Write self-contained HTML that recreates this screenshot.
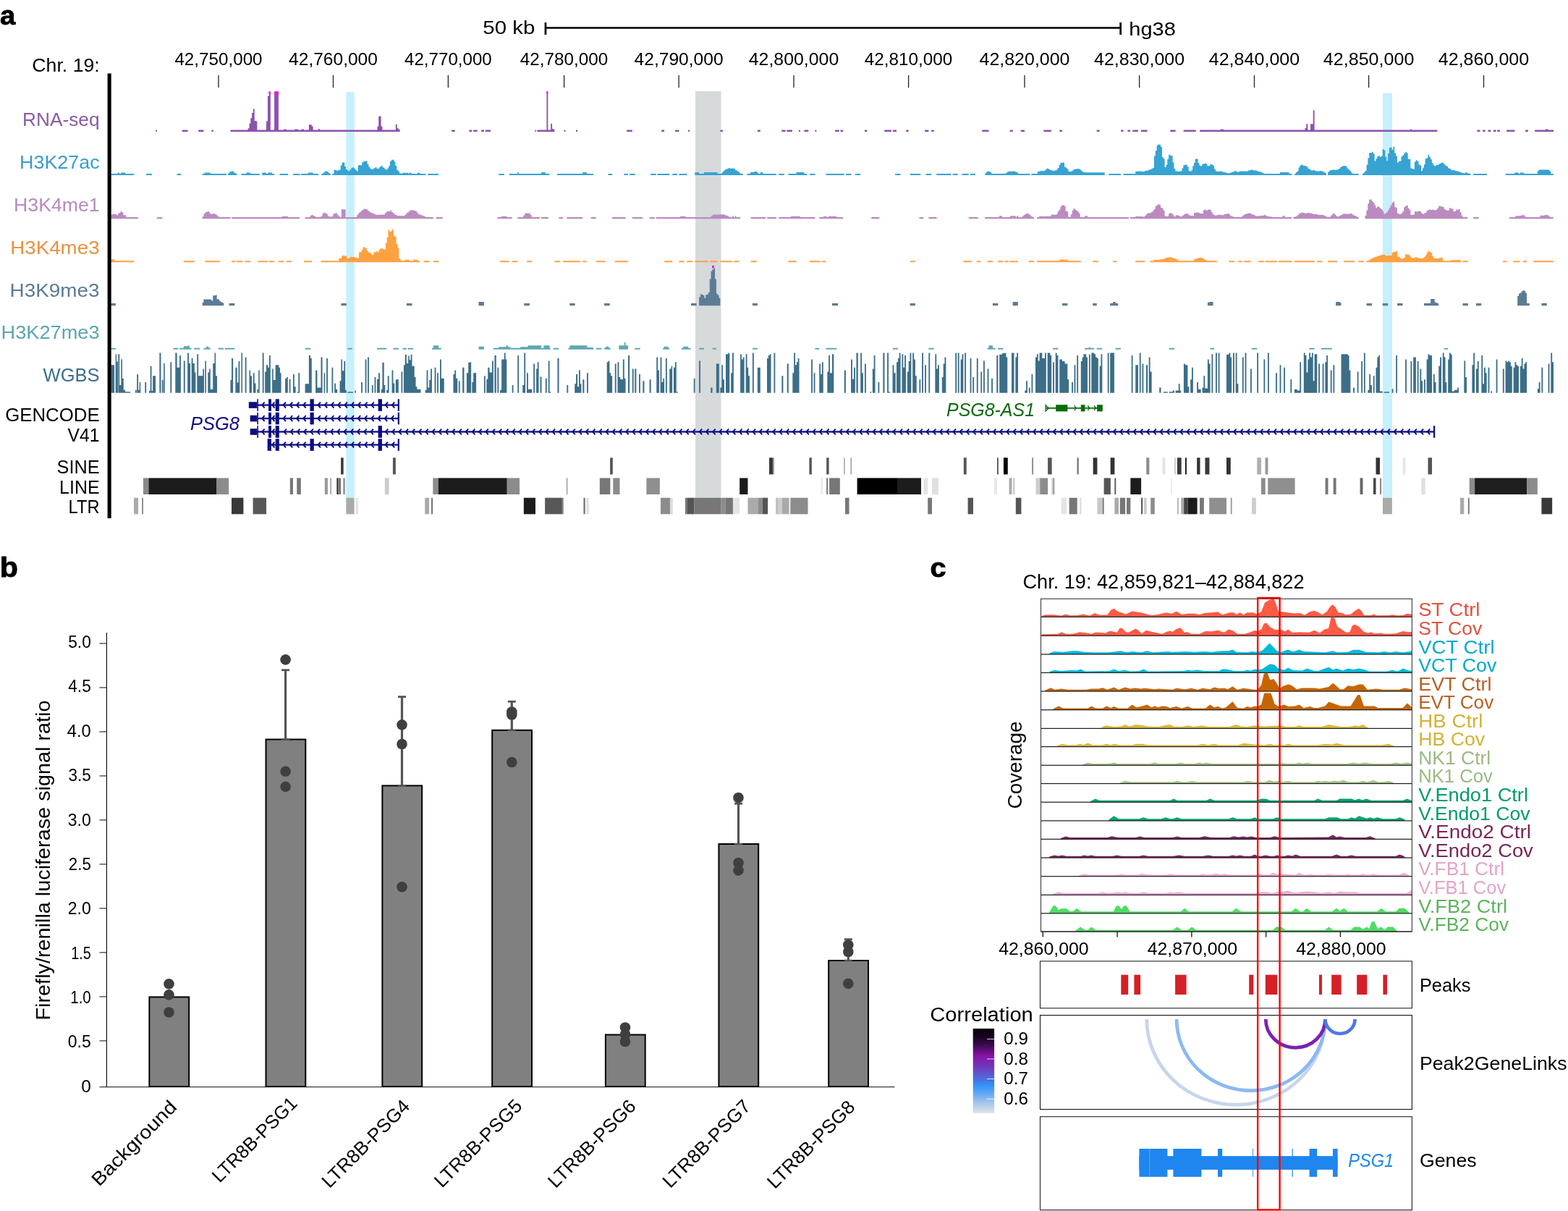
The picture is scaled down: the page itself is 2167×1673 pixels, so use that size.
<!DOCTYPE html>
<html lang="en"><head><meta charset="utf-8"><title>Figure</title>
<style>html,body{margin:0;padding:0;background:#fff}svg{display:block}text{font-family:"Liberation Sans",sans-serif}</style></head><body>
<svg width="2167" height="1673" viewBox="0 0 2167 1673" role="img" aria-label="Figure panels a, b and c">
<defs><linearGradient id="corr" x1="0" y1="0" x2="0" y2="1"><stop offset="0" stop-color="#06000a"/><stop offset="0.1" stop-color="#1a0322"/><stop offset="0.2" stop-color="#3e0a52"/><stop offset="0.32" stop-color="#8612a4"/><stop offset="0.45" stop-color="#7038bc"/><stop offset="0.55" stop-color="#5a5cd0"/><stop offset="0.62" stop-color="#4478e4"/><stop offset="0.68" stop-color="#3394fb"/><stop offset="0.78" stop-color="#6aabf3"/><stop offset="0.88" stop-color="#a5c6ee"/><stop offset="1" stop-color="#dfe3e6"/></linearGradient></defs>
<rect x="0" y="0" width="2167" height="1673" fill="#fff"/>
<g id="panel-a">
<rect x="478.4" y="127" width="11.3" height="560.7" fill="#c6f0fc"/>
<rect x="961" y="126" width="35.5" height="561.7" fill="#d6dadb"/>
<rect x="1911" y="128.5" width="13" height="559.2" fill="#c6f0fc"/>
<rect x="753" y="37.25" width="796" height="2.5" fill="#000"/>
<rect x="752.6" y="31" width="2.7" height="17" fill="#000"/>
<rect x="1547.3" y="31" width="2.7" height="17" fill="#000"/>
<text x="667.3" y="47.3" font-size="26" textLength="72" lengthAdjust="spacingAndGlyphs">50 kb</text>
<text x="1560.3" y="49" font-size="26" textLength="64.5" lengthAdjust="spacingAndGlyphs">hg38</text>
<text x="137.8" y="98.9" font-size="26" text-anchor="end" textLength="93.5" lengthAdjust="spacingAndGlyphs">Chr. 19:</text>
<rect x="301.35" y="104" width="1.3" height="17" fill="#222"/>
<text x="302" y="90.2" font-size="24.2" text-anchor="middle" textLength="121.2" lengthAdjust="spacingAndGlyphs">42,750,000</text>
<rect x="459.85" y="104" width="1.3" height="17" fill="#222"/>
<text x="460.5" y="90.2" font-size="24.2" text-anchor="middle" textLength="122.8" lengthAdjust="spacingAndGlyphs">42,760,000</text>
<rect x="618.75" y="104" width="1.3" height="17" fill="#222"/>
<text x="619.4" y="90.2" font-size="24.2" text-anchor="middle" textLength="120.8" lengthAdjust="spacingAndGlyphs">42,770,000</text>
<rect x="778.95" y="104" width="1.3" height="17" fill="#222"/>
<text x="779.6" y="90.2" font-size="24.2" text-anchor="middle" textLength="121.5" lengthAdjust="spacingAndGlyphs">42,780,000</text>
<rect x="937.45" y="104" width="1.3" height="17" fill="#222"/>
<text x="938.1" y="90.2" font-size="24.2" text-anchor="middle" textLength="123" lengthAdjust="spacingAndGlyphs">42,790,000</text>
<rect x="1096.35" y="104" width="1.3" height="17" fill="#222"/>
<text x="1097" y="90.2" font-size="24.2" text-anchor="middle" textLength="124.5" lengthAdjust="spacingAndGlyphs">42,800,000</text>
<rect x="1254.95" y="104" width="1.3" height="17" fill="#222"/>
<text x="1255.6" y="90.2" font-size="24.2" text-anchor="middle" textLength="121.5" lengthAdjust="spacingAndGlyphs">42,810,000</text>
<rect x="1415.35" y="104" width="1.3" height="17" fill="#222"/>
<text x="1416" y="90.2" font-size="24.2" text-anchor="middle" textLength="125" lengthAdjust="spacingAndGlyphs">42,820,000</text>
<rect x="1573.95" y="104" width="1.3" height="17" fill="#222"/>
<text x="1574.6" y="90.2" font-size="24.2" text-anchor="middle" textLength="125" lengthAdjust="spacingAndGlyphs">42,830,000</text>
<rect x="1732.85" y="104" width="1.3" height="17" fill="#222"/>
<text x="1733.5" y="90.2" font-size="24.2" text-anchor="middle" textLength="125.6" lengthAdjust="spacingAndGlyphs">42,840,000</text>
<rect x="1890.95" y="104" width="1.3" height="17" fill="#222"/>
<text x="1891.6" y="90.2" font-size="24.2" text-anchor="middle" textLength="125.5" lengthAdjust="spacingAndGlyphs">42,850,000</text>
<rect x="2049.85" y="104" width="1.3" height="17" fill="#222"/>
<text x="2050.5" y="90.2" font-size="24.2" text-anchor="middle" textLength="125.5" lengthAdjust="spacingAndGlyphs">42,860,000</text>
<path fill="#8c52ab" d="M215.3 179.45H216.91V181.99H215.3ZM251.75 179.45H259.6V181.99H251.75ZM274.13 179.45H281.52V181.99H274.13ZM292.36 179.45H294.67V181.99H292.36ZM318.44 179.45H552.63V181.99H318.44ZM624.16 179.45H628.77V181.99H624.16ZM648.38 179.45H650V181.99H648.38ZM392.27 178.53H395.73V181.99H392.27ZM407.27 178.53H411.88V181.99H407.27ZM416.5 178.53H419.96V181.99H416.5ZM426.88 172.3H430.8V181.99H426.88ZM430.8 174.61H432.65V181.99H430.8ZM440.03 178.07H441.88V181.99H440.03ZM342.66 181.99V177.18H344.48V170.49H346.29V163.33H348.1V156.11H349.91V150.56H351.73V166.93H353.54V167.5H355.35V181.99ZM368.04 181.99V167.36H369.97V132.5H371.89V127.15H373.81V181.99ZM379.12 181.99V129.59H381.04V129.45H382.96V127.22H384.89V181.99ZM521.48 181.99V174.39H523.21V160.84H524.94V160.57H526.67V174.57H528.4V181.99ZM546.86 181.99V171.87H548.78V177.3H550.71V178.66H552.63V181.99ZM650 179.45H652.31V181.99H650ZM654.15 179.45H659.69V181.99H654.15ZM665 179.45H668.92V181.99H665ZM670.77 179.45H678.15V181.99H670.77ZM739.29 179.45H740.68V181.99H739.29ZM742.29 179.45H766.52V181.99H742.29ZM779.67 179.45H781.52V181.99H779.67ZM796.05 179.45H798.13V181.99H796.05ZM866.2 179.45H873.81V181.99H866.2ZM914.19 179.45H918.11V181.99H914.19ZM933.11 179.45H938.42V181.99H933.11ZM951.11 179.45H952.95V181.99H951.11ZM995.41 179.45H999.1V181.99H995.41ZM1046.86 179.45H1050.78V181.99H1046.86ZM1080.32 179.45H1085.63V181.99H1080.32ZM1087.24 179.45H1094.85V181.99H1087.24ZM1104.08 179.45H1105.93V181.99H1104.08ZM1111.47 179.45H1117.24V181.99H1111.47ZM1126.47 179.45H1128.31V181.99H1126.47ZM755.45 126.15H757.29V181.99H755.45ZM761.21 170.68H763.06V181.99H761.21ZM763.06 178.07H765.37V181.99H763.06ZM1154.15 179.45H1159.69V181.99H1154.15ZM1161.54 179.45H1165.23V181.99H1161.54ZM1194.99 179.45H1198.45V181.99H1194.99ZM1222.22 179.45H1231.91V181.99H1222.22ZM1233.76 179.45H1239.06V181.99H1233.76ZM1252.22 179.45H1255.68V181.99H1252.22ZM1278.06 179.45H1283.36V181.99H1278.06ZM1287.29 179.45H1290.75V181.99H1287.29ZM1357.2 179.45H1366.43V181.99H1357.2ZM1395.73 179.45H1399.65V181.99H1395.73ZM1410.73 179.45H1416.04V181.99H1410.73ZM1442.34 179.45H1452.95V181.99H1442.34ZM1464.26 179.45H1467.95V181.99H1464.26ZM1515.71 179.45H1519.64V181.99H1515.71ZM1549.17 179.45H1552.63V181.99H1549.17ZM1558.4 179.45H1561.86V181.99H1558.4ZM1565.32 179.45H1572.93V181.99H1565.32ZM1576.86 179.45H1585.63V181.99H1576.86ZM1617.24 179.45H1624.62V181.99H1617.24ZM1635.69 179.45H1650V181.99H1635.69ZM1650 179.45H1652.77V181.99H1650ZM1658.08 179.45H1986.41V181.99H1658.08ZM2041.56 179.45H2045.48V181.99H2041.56ZM2049.17 179.45H2052.63V181.99H2049.17ZM2056.55 179.45H2060.24V181.99H2056.55ZM2063.94 179.45H2067.63V181.99H2063.94ZM2069.24 179.45H2072.93V181.99H2069.24ZM2082.16 179.45H2093.47V181.99H2082.16ZM2108.01 179.45H2111.93V181.99H2108.01ZM2121.16 179.45H2147.23V181.99H2121.16ZM1686.92 178.53H1691.07V181.99H1686.92ZM1803.44 176.91H1805.28V181.99H1803.44ZM1805.28 171.14H1807.36V181.99H1805.28ZM1811.05 171.14H1814.74V181.99H1811.05ZM1814.74 152.22H1816.59V181.99H1814.74ZM1949.26 178.53H1951.11V181.99H1949.26ZM2135.69 178.53H2139.62V181.99H2135.69Z"/>
<path fill="#ff00e0" d="M371.5 126.15H373.81V130.3H371.5ZM379.12 126.15H384.89V130.3H379.12ZM755.45 126.15H757.29V129.61H755.45Z"/>
<path fill="#36a3d2" d="M153.46 239.9H185.3V241.98H153.46ZM201.92 239.9H209.99V241.98H201.92ZM244.6 239.9H250.37V241.98H244.6ZM279.67 239.9H313.13V241.98H279.67ZM314.97 239.9H327.66V241.98H314.97ZM333.43 239.9H358.81V241.98H333.43ZM362.28 239.9H379.12V241.98H362.28ZM386.5 239.9H398.04V241.98H386.5ZM404.96 239.9H414.65V241.98H404.96ZM416.04 239.9H440.03V241.98H416.04ZM444.19 239.9H456.88V241.98H444.19ZM459.18 239.9H588.39V241.98H459.18ZM591.16 239.9H606.16V241.98H591.16ZM162.69 238.52H165V241.98H162.69ZM167.31 238.52H173.07V241.98H167.31ZM282.67 238.52H290.75V241.98H282.67ZM340.36 238.52H346.12V241.98H340.36ZM362.28 238.52H368.04V241.98H362.28ZM370.35 238.52H376.12V241.98H370.35ZM425.73 238.52H432.65V241.98H425.73ZM556.09 238.75H564.17V241.98H556.09ZM565.32 238.75H568.78V241.98H565.32ZM576.86 238.75H580.32V241.98H576.86ZM314.97 241.98V239.8H316.79V237.54H318.6V236.93H320.41V236.32H322.23V237.59H324.04V238.95H325.85V240.15H327.66V241.98ZM445.34 241.98V239.74H447.26V237.8H449.18V236.58H451.11V236.66H453.03V238.14H454.95V239.86H456.88V241.98ZM461.49 241.98V234.78H463.34V235.1H465.18V235.68H467.03V235.32H468.87V234.55H470.72V228.42H472.57V224.53H474.41V224.52H476.26V229.75H478.1V233.94H479.95V235.52H481.8V236.3H483.64V233.73H485.49V231.96H487.33V231.14H489.18V232.9H491.02V234.83H492.87V236.46H494.72V228.3H496.56V228.01H498.41V228.24H500.25V224.17H502.1V223.03H503.95V222.76H505.79V222.43H507.64V226.66H509.48V230.57H511.33V232.92H513.17V234.05H515.02V233.37H516.87V232.19H518.71V231.07H520.56V232.97H522.4V232.63H524.25V230.89H526.1V229.06H527.94V230.62H529.79V231.99H531.63V233.43H533.48V234.47H535.33V232.43H537.17V229.22H539.02V222.64H540.86V220.65H542.71V220.82H544.55V223.32H546.4V229.08H548.25V234.77H550.09V236.39H551.94V239.26H553.78V241.98ZM689.22 239.9H696.84V241.98H689.22ZM703.76 239.9H759.6V241.98H703.76ZM769.98 239.9H820.05V241.98H769.98ZM840.36 239.9H846.12V241.98H840.36ZM862.28 239.9H868.04V241.98H862.28ZM869.89 239.9H877.73V241.98H869.89ZM899.19 239.9H906.81V241.98H899.19ZM908.42 239.9H925.27V241.98H908.42ZM929.19 239.9H936.11V241.98H929.19ZM938.42 239.9H949.49V241.98H938.42ZM960.34 239.9H1026.79V241.98H960.34ZM1032.33 239.9H1072.93V241.98H1032.33ZM1076.4 239.9H1083.78V241.98H1076.4ZM1089.55 239.9H1115.39V241.98H1089.55ZM1119.08 239.9H1126.47V241.98H1119.08ZM1141.46 239.9H1150V241.98H1141.46ZM715.3 238.06H716.91V241.98H715.3ZM748.06 238.06H753.83V241.98H748.06ZM805.28 238.06H810.82V241.98H805.28ZM960.34 238.06H966.11V241.98H960.34ZM973.03 238.06H991.49V241.98H973.03ZM1050.78 238.06H1054.48V241.98H1050.78ZM1100.62 238.06H1111.47V241.98H1100.62ZM996.1 241.98V239.8H997.9V238.05H999.71V235.95H1001.51V234.45H1003.31V233.55H1005.11V233.05H1006.92V232.07H1008.72V232.82H1010.52V232.68H1012.32V232.51H1014.13V233.07H1015.93V235.02H1017.73V235.87H1019.53V237.02H1021.34V238.4H1023.14V240.06H1024.94V241.98ZM1035.33 241.98V239.74H1037.14V237.9H1038.95V237.7H1040.76V237.81H1042.58V237.08H1044.39V237.1H1046.2V238.53H1048.02V241.98ZM1150 239.9H1166.84V241.98H1150ZM1168.92 239.9H1176.53V241.98H1168.92ZM1181.84 239.9H1189.22V241.98H1181.84ZM1237.22 239.9H1244.6V241.98H1237.22ZM1257.75 239.9H1272.29V241.98H1257.75ZM1279.67 239.9H1287.29V241.98H1279.67ZM1294.21 239.9H1314.51V241.98H1294.21ZM1316.59 239.9H1323.74V241.98H1316.59ZM1329.51 239.9H1338.74V241.98H1329.51ZM1340.59 239.9H1347.97V241.98H1340.59ZM1361.12 239.9H1423.42V241.98H1361.12ZM1425.27 239.9H1526.79V241.98H1425.27ZM1532.33 239.9H1549.17V241.98H1532.33ZM1552.63 239.9H1650V241.98H1552.63ZM1498.41 238.29H1526.79V241.98H1498.41ZM1361.12 241.98V239.56H1362.93V237.2H1364.74V236.86H1366.54V236.98H1368.35V237.85H1370.16V239.77H1371.97V241.98ZM1389.96 241.98V238.72H1391.83V237.53H1393.71V236.82H1395.58V236.66H1397.45V236.83H1399.32V236.55H1401.19V236.82H1403.06V237.43H1404.94V237.98H1406.81V241.98ZM1433.8 241.98V237.35H1435.66V236.45H1437.52V236.22H1439.38V236.02H1441.24V236.31H1443.1V235.53H1444.95V234.1H1446.81V232.48H1448.67V233.52H1450.53V234.82H1452.39V235.37H1454.25V235.87H1456.11V235.66H1457.97V235.51H1459.82V234.53H1461.68V232.03H1463.54V227.65H1465.4V224.81H1467.26V224.93H1469.12V224.56H1470.98V230.62H1472.83V231.86H1474.69V233.56H1476.55V237.12H1478.41V237.23H1480.27V236.45H1482.13V235.17H1483.99V233.75H1485.85V233.47H1487.7V233.27H1489.56V233.35H1491.42V233.41H1493.28V235.34H1495.14V237.04H1497V237.88H1498.86V239.71H1500.72V241.98ZM1569.24 241.98V236.77H1571.08V236.76H1572.91V236.6H1574.75V236.76H1576.58V236.58H1578.42V237.14H1580.26V236.96H1582.09V236.08H1583.93V235.83H1585.76V235.41H1587.6V234.35H1589.43V234.14H1591.27V233.01H1593.1V231.88H1594.94V215.42H1596.77V208.35H1598.61V200.84H1600.44V199.6H1602.28V199.96H1604.12V202.97H1605.95V217.09H1607.79V219.48H1609.62V231.03H1611.46V227.66H1613.29V219.82H1615.13V213.78H1616.96V214.64H1618.8V215.22H1620.63V224.2H1622.47V232.88H1624.3V236.27H1626.14V236.52H1627.98V237.01H1629.81V236.78H1631.65V236.36H1633.48V232.56H1635.32V228.28H1637.15V227.73H1638.99V227.47H1640.82V230.19H1642.66V236.28H1644.49V236.46H1646.33V235.37H1648.16V229.17H1650V241.98ZM1650 239.9H1785.44V241.98H1650ZM1789.13 239.9H1832.97V241.98H1789.13ZM1835.05 239.9H1877.73V241.98H1835.05ZM1883.04 239.9H2032.33V241.98H1883.04ZM2036.02 239.9H2054.94V241.98H2036.02ZM2080.55 239.9H2146.77V241.98H2080.55ZM1768.83 238.06H1781.52V241.98H1768.83ZM2093.01 238.52H2098.78V241.98H2093.01ZM2100.62 238.52H2106.16V241.98H2100.62ZM2124.85 236.44H2126.47V241.98H2124.85ZM2126.47 234.6H2141.46V241.98H2126.47ZM2141.46 236.44H2143.31V241.98H2141.46ZM1650 241.98V224.73H1651.86V219.45H1653.73V219.54H1655.59V225.28H1657.45V228.59H1659.32V229.43H1661.18V226.84H1663.05V226.25H1664.91V225.79H1666.77V226.79H1668.64V229.57H1670.5V229.06H1672.36V226.67H1674.23V227.14H1676.09V228.63H1677.95V233.62H1679.82V236.58H1681.68V236.63H1683.55V236.73H1685.41V236.45H1687.27V236.82H1689.14V237.62H1691V238.07H1692.86V238.3H1694.73V238.88H1696.59V239.42H1698.45V239.25H1700.32V238.59H1702.18V237.82H1704.04V237.22H1705.91V236.31H1707.77V236.85H1709.64V237.69H1711.5V237.14H1713.36V236.56H1715.23V236.39H1717.09V236.6H1718.95V236.47H1720.82V236.74H1722.68V236.82H1724.54V235.63H1726.41V235.27H1728.27V234.77H1730.14V234.59H1732V235.38H1733.86V235.41H1735.73V235.83H1737.59V236.63H1739.45V236.96H1741.32V237.59H1743.18V238.48H1745.04V239.23H1746.91V241.98ZM1789.13 241.98V239.91H1790.96V238.08H1792.79V236.48H1794.61V231.35H1796.44V228.53H1798.27V227.39H1800.09V228.5H1801.92V229.01H1803.75V229.55H1805.57V230.29H1807.4V232.73H1809.23V233.75H1811.05V235.35H1812.88V235.42H1814.71V234.82H1816.53V235.67H1818.36V236.16H1820.19V236.49H1822.01V236.61H1823.84V236.06H1825.67V236.5H1827.49V236.76H1829.32V237.81H1831.15V239.07H1832.97V241.98ZM1835.05 241.98V237.45H1836.95V235.7H1838.84V235.08H1840.74V234.62H1842.64V234.42H1844.53V235.02H1846.43V234.62H1848.33V234.35H1850.23V233.11H1852.12V231.02H1854.02V229.73H1855.92V229.32H1857.81V229.02H1859.71V229.65H1861.61V232.56H1863.51V234.3H1865.4V236.03H1867.3V238.38H1869.2V241.98ZM1883.04 241.98V239.81H1884.88V237.73H1886.73V235.86H1888.57V227.58H1890.41V218.13H1892.26V211.04H1894.1V211.15H1895.94V209.74H1897.79V212.34H1899.63V222.42H1901.47V219.24H1903.31V216.05H1905.16V215.59H1907V217.06H1908.84V215.41H1910.69V205.91H1912.53V207.54H1914.37V216.75H1916.22V221.93H1918.06V212.03H1919.9V204.3H1921.74V203.57H1923.59V206.66H1925.43V202.73H1927.27V211.44H1929.12V215.5H1930.96V224.5H1932.8V223.05H1934.65V222.52H1936.49V216.24H1938.33V214.6H1940.17V212.12H1942.02V209.9H1943.86V211.49H1945.7V219.69H1947.55V219.68H1949.39V232.46H1951.23V233.11H1953.08V233.7H1954.92V223.57H1956.76V221.15H1958.6V222.78H1960.45V227.34H1962.29V228.26H1964.13V235.98H1965.98V232.16H1967.82V227.28H1969.66V219.25H1971.51V218.4H1973.35V213.8H1975.19V216.71H1977.04V220.31H1978.88V225.36H1980.72V228.22H1982.56V229.4H1984.41V227.73H1986.25V227.92H1988.09V226.43H1989.94V225.69H1991.78V224.71H1993.62V224.9H1995.47V227.12H1997.31V228.72H1999.15V229.66H2000.99V232.33H2002.84V233.11H2004.68V234.62H2006.52V235.24H2008.37V235.07H2010.21V235.65H2012.05V236.36H2013.9V236.38H2015.74V237.19H2017.58V237.73H2019.42V238.68H2021.27V239.11H2023.11V239.5H2024.95V238.09H2026.8V238.81H2028.64V239.21H2030.48V240.29H2032.33V241.98Z"/>
<path fill="#bb8bc0" d="M153.46 300.12H191.07V302.2H153.46ZM216.91 300.12H224.3V302.2H216.91ZM279.67 300.12H318.44V302.2H279.67ZM320.05 300.12H414.19V302.2H320.05ZM421.57 300.12H598.78V302.2H421.57ZM602.7 300.12H611.93V302.2H602.7ZM389.96 298.74H398.04V302.2H389.96ZM471.87 289.28H477.64V302.2H471.87ZM153.46 302.2V296.52H155.35V295.84H157.24V295.93H159.12V295.76H161.01V297.22H162.9V294.88H164.79V293.71H166.68V291.93H168.56V293.6H170.45V297.2H172.34V297.16H174.23V302.2ZM279.67 302.2V299.22H281.56V295.29H283.44V293.18H285.33V292.61H287.21V292.07H289.09V294.17H290.98V295.8H292.86V295.45H294.75V294.91H296.63V295.79H298.52V296.69H300.4V298.84H302.28V302.2ZM426.88 302.2V299.84H428.74V297.69H430.59V296.71H432.45V297.76H434.3V299.02H436.16V299.66H438.02V299.66H439.87V299.66H441.73V299.66H443.58V298.81H445.44V295.28H447.3V293.48H449.15V294.43H451.01V295.59H452.86V298.23H454.72V299.56H456.57V299.37H458.43V298.96H460.29V295.61H462.14V294.75H464V294.23H465.85V296.58H467.71V298.53H469.57V302.2ZM491.49 302.2V299.76H493.32V297.11H495.16V294.57H497V292.97H498.84V291.25H500.67V290.09H502.51V288.59H504.35V288.82H506.18V288.95H508.02V290.91H509.86V292.28H511.7V293.67H513.53V294.27H515.37V295.04H517.21V295.95H519.05V296.64H520.88V296.67H522.72V296.63H524.56V296.52H526.4V296.73H528.23V296.53H530.07V296.41H531.91V294.18H533.74V292.44H535.58V292.03H537.42V291.96H539.26V290.8H541.09V292.99H542.93V294.28H544.77V295.91H546.61V296.94H548.44V298.1H550.28V298.09H552.12V298.24H553.95V298.09H555.79V298.34H557.63V298.06H559.47V296.42H561.3V294.4H563.14V293.17H564.98V291.74H566.82V289.96H568.65V290.48H570.49V290.39H572.33V290.9H574.17V291.53H576V293.78H577.84V295.87H579.68V296.52H581.51V297.21H583.35V297.74H585.19V298.34H587.03V299.44H588.86V300.5H590.7V302.2ZM687.38 300.12H707.68V302.2H687.38ZM715.3 300.12H746.22V302.2H715.3ZM748.06 300.12H757.75V302.2H748.06ZM772.29 300.12H778.06V302.2H772.29ZM783.36 300.12H805.28V302.2H783.36ZM816.59 300.12H823.74V302.2H816.59ZM846.12 300.12H864.58V302.2H846.12ZM873.81 300.12H888.35V302.2H873.81ZM897.58 300.12H904.96V302.2H897.58ZM906.81 300.12H1023.1V302.2H906.81ZM1037.63 300.12H1058.4V302.2H1037.63ZM1060.24 300.12H1072.93V302.2H1060.24ZM1076.4 300.12H1126.47V302.2H1076.4ZM1132.23 300.12H1150V302.2H1132.23ZM692.69 298.74H700.3V302.2H692.69ZM940.03 298.74H947.65V302.2H940.03ZM1012.25 298.28H1013.87V302.2H1012.25ZM1015.71 298.28H1017.33V302.2H1015.71ZM1093.01 298.74H1105.93V302.2H1093.01ZM1138 298.74H1142.62V302.2H1138ZM1144.92 298.74H1150V302.2H1144.92ZM721.53 302.2V299.83H723.4V297.55H725.28V294.46H727.15V294.53H729.03V295.08H730.9V294.36H732.78V297.11H734.65V299.83H736.53V302.2ZM981.1 302.2V299.82H983V297.77H984.89V296.82H986.79V296.27H988.68V296.74H990.58V296.47H992.47V296.49H994.37V296.26H996.27V296.28H998.16V296.26H1000.06V296.57H1001.95V297.28H1003.85V298.12H1005.74V298.5H1007.64V302.2ZM1150 300.12H1165.23V302.2H1150ZM1204.22 300.12H1215.3V302.2H1204.22ZM1270.44 300.12H1276.21V302.2H1270.44ZM1283.36 300.12H1294.67V302.2H1283.36ZM1338.74 300.12H1351.89V302.2H1338.74ZM1361.12 300.12H1429.19V302.2H1361.12ZM1433.11 300.12H1560.01V302.2H1433.11ZM1561.86 300.12H1650V302.2H1561.86ZM1150 298.74H1155.77V302.2H1150ZM1380.73 298.28H1384.89V302.2H1380.73ZM1395.73 298.28H1403.81V302.2H1395.73ZM1404.96 298.28H1407.27V302.2H1404.96ZM1499.1 298.28H1503.02V302.2H1499.1ZM1410.73 302.2V300.24H1412.52V298.78H1414.32V297.35H1416.11V296.24H1417.91V295.01H1419.7V295.07H1421.5V295.89H1423.29V297.52H1425.09V298.93H1426.88V302.2ZM1436.11 302.2V298.72H1437.93V298.7H1439.76V298.78H1441.58V298.98H1443.4V298.65H1445.23V298.67H1447.05V298.77H1448.87V298.76H1450.7V298.71H1452.52V296.79H1454.35V296.33H1456.17V296.66H1457.99V296.79H1459.82V295.98H1461.64V292.28H1463.46V289.65H1465.29V285.44H1467.11V283.44H1468.93V283.39H1470.76V284.54H1472.58V291.49H1474.4V292.15H1476.23V299.66H1478.05V299.66H1479.87V296.15H1481.7V290.99H1483.52V288.04H1485.35V289.21H1487.17V290.72H1488.99V292.26H1490.82V294.6H1492.64V302.2ZM1569.24 302.2V298.86H1571.08V298.75H1572.91V298.98H1574.75V298.96H1576.58V298.99H1578.42V299.24H1580.26V299.6H1582.09V297.93H1583.93V295.87H1585.76V294.38H1587.6V294.39H1589.43V293.8H1591.27V293.12H1593.1V290.71H1594.94V288.8H1596.77V284.62H1598.61V283.41H1600.44V281.93H1602.28V283.31H1604.12V286.96H1605.95V287.91H1607.79V290.91H1609.62V298.58H1611.46V298.8H1613.29V298.87H1615.13V294.93H1616.96V294.26H1618.8V294.93H1620.63V296.94H1622.47V299.13H1624.3V297.46H1626.14V297.14H1627.98V297.69H1629.81V298.56H1631.65V299.4H1633.48V297.97H1635.32V296.42H1637.15V295.61H1638.99V295.1H1640.82V295.49H1642.66V297.26H1644.49V297.85H1646.33V298.05H1648.16V297.99H1650V302.2ZM1650 300.12H1785.44V302.2H1650ZM1787.29 300.12H1877.73V302.2H1787.29ZM1886.5 300.12H2028.4V302.2H1886.5ZM2036.02 300.12H2043.63V302.2H2036.02ZM2086.09 300.12H2146.77V302.2H2086.09ZM1772.29 298.28H1775.75V302.2H1772.29ZM1650 302.2V294.35H1651.84V293.78H1653.68V293.25H1655.51V293.72H1657.35V294.46H1659.19V295.08H1661.03V295.08H1662.87V290.31H1664.7V289.17H1666.54V290.99H1668.38V289.97H1670.22V289.28H1672.06V290.01H1673.89V292.65H1675.73V295.98H1677.57V297.16H1679.41V297.72H1681.25V297.28H1683.08V296.79H1684.92V296.66H1686.76V296.94H1688.6V297.17H1690.44V296.7H1692.28V295.71H1694.11V295.83H1695.95V295.09H1697.79V295.44H1699.63V297.67H1701.47V298.65H1703.3V299.26H1705.14V299.66H1706.98V299.66H1708.82V299.66H1710.66V299.66H1712.49V299.66H1714.33V299.66H1716.17V298.77H1718.01V297.26H1719.85V296.12H1721.68V295.53H1723.52V294.96H1725.36V294.59H1727.2V294.94H1729.04V295.53H1730.87V296.42H1732.71V297.04H1734.55V298.13H1736.39V298.53H1738.23V298.58H1740.06V298.16H1741.9V297.93H1743.74V297.82H1745.58V297.66H1747.42V296.83H1749.25V297.91H1751.09V298.85H1752.93V299.14H1754.77V299.3H1756.61V299.54H1758.44V302.2ZM1787.29 302.2V300.57H1789.13V299.61H1790.98V298.77H1792.82V297.27H1794.67V295.19H1796.52V294.59H1798.36V293.59H1800.21V294.01H1802.05V294.21H1803.9V294.68H1805.75V294.31H1807.59V294.02H1809.44V294.56H1811.28V294.47H1813.13V295.29H1814.97V295.97H1816.82V295.74H1818.67V295.97H1820.51V296.56H1822.36V296.86H1824.2V296.91H1826.05V297.07H1827.9V296.99H1829.74V297.73H1831.59V299.06H1833.43V299.66H1835.28V299.66H1837.13V299.66H1838.97V297.63H1840.82V295.98H1842.66V294.47H1844.51V296.41H1846.35V298.59H1848.2V299.32H1850.05V298.47H1851.89V297.5H1853.74V296.53H1855.58V295.48H1857.43V295.23H1859.28V295.48H1861.12V295.38H1862.97V295.71H1864.81V294.95H1866.66V295.1H1868.5V296.32H1870.35V297.38H1872.2V297.97H1874.04V299.06H1875.89V300.34H1877.73V302.2ZM1886.5 302.2V297.82H1888.35V290.61H1890.2V281.2H1892.05V275.71H1893.9V275.46H1895.75V277.94H1897.6V280.05H1899.45V283.6H1901.29V287.2H1903.14V285.61H1904.99V285.63H1906.84V287.52H1908.69V288.95H1910.54V291.38H1912.39V295.46H1914.24V294.8H1916.09V293.16H1917.94V290.36H1919.78V287.08H1921.63V283.48H1923.48V280.25H1925.33V278.58H1927.18V285.87H1929.03V287.06H1930.88V294.61H1932.73V296H1934.58V296.09H1936.43V294.49H1938.27V292.37H1940.12V286.32H1941.97V284.96H1943.82V283.48H1945.67V287.64H1947.52V289.72H1949.37V296.75H1951.22V296.66H1953.07V296.4H1954.92V292.11H1956.77V292.38H1958.61V291.99H1960.46V291.55H1962.31V292.09H1964.16V294.4H1966.01V295.75H1967.86V294.83H1969.71V293.79H1971.56V291.09H1973.41V290.15H1975.26V289.42H1977.1V289.88H1978.95V289.53H1980.8V290.13H1982.65V290.17H1984.5V289.71H1986.35V287.45H1988.2V284.51H1990.05V285.07H1991.9V285.51H1993.75V286.12H1995.59V288.84H1997.44V289.97H1999.29V290.92H2001.14V290.42H2002.99V287.07H2004.84V288.29H2006.69V288.62H2008.54V292.35H2010.39V291.65H2012.24V289.16H2014.09V289.64H2015.93V288.95H2017.78V293.35H2019.63V297.67H2021.48V302.2ZM2091.86 302.2V300.09H2093.78V298.85H2095.7V298.36H2097.62V298.49H2099.55V298.08H2101.47V298.09H2103.39V296.81H2105.31V297.49H2107.24V299.23H2109.16V302.2ZM2126.47 302.2V299.8H2128.39V297.79H2130.31V297.79H2132.23V297.74H2134.16V297.34H2136.08V296.64H2138V297.37H2139.92V298.39H2141.85V300.21H2143.77V302.2Z"/>
<path fill="#ffa141" d="M153.46 360.22H185.3V362.3H153.46ZM253.83 360.22H268.83V362.3H253.83ZM283.36 360.22H303.9V362.3H283.36ZM320.05 360.22H325.82V362.3H320.05ZM327.2 360.22H335.28V362.3H327.2ZM338.51 360.22H346.12V362.3H338.51ZM356.97 360.22H370.35V362.3H356.97ZM371.5 360.22H379.12V362.3H371.5ZM384.66 360.22H392.27V362.3H384.66ZM395.73 360.22H403.11V362.3H395.73ZM419.96 360.22H431.03V362.3H419.96ZM443.72 360.22H580.32V362.3H443.72ZM585.63 360.22H593.47V362.3H585.63ZM598.78 360.22H606.16V362.3H598.78ZM153.46 358.14H158.08V362.3H153.46ZM559.55 358.84H565.32V362.3H559.55ZM571.09 358.84H576.86V362.3H571.09ZM468.41 362.3V356.83H470.25V356.66H472.09V353.48H473.94V352.64H475.78V353.56H477.62V353.66H479.46V356.89H481.3V356.66H483.14V355.37H484.98V354.79H486.82V355.11H488.66V355.11H490.5V355.52H492.35V356.32H494.19V356.75H496.03V348.59H497.87V348H499.71V345.25H501.55V341.44H503.39V341.54H505.23V342.93H507.07V346.21H508.91V348.38H510.75V349.24H512.6V350.79H514.44V352.35H516.28V348.5H518.12V348.56H519.96V347.1H521.8V348.28H523.64V344.97H525.48V343.31H527.32V343.31H529.16V344.17H531.01V344.76H532.85V335.64H534.69V328.12H536.53V317.52H538.37V320.37H540.21V319.32H542.05V316.69H543.89V325.68H545.73V326.98H547.57V337.09H549.41V342.39H551.26V356.92H553.1V359.61H554.94V362.3ZM691.07 360.22H703.76V362.3H691.07ZM707.68 360.22H715.3V362.3H707.68ZM727.99 360.22H735.37V362.3H727.99ZM766.52 360.22H774.13V362.3H766.52ZM778.06 360.22H801.82V362.3H778.06ZM805.28 360.22H810.82V362.3H805.28ZM823.74 360.22H836.89V362.3H823.74ZM849.82 360.22H868.04V362.3H849.82ZM918.11 360.22H929.19V362.3H918.11ZM938.42 360.22H945.57V362.3H938.42ZM949.26 360.22H956.88V362.3H949.26ZM960.34 360.22H978.8V362.3H960.34ZM981.1 360.22H991.72V362.3H981.1ZM995.41 360.22H1011.79V362.3H995.41ZM1013.87 360.22H1021.48V362.3H1013.87ZM1037.63 360.22H1045.71V362.3H1037.63ZM1089.55 360.22H1100.62V362.3H1089.55ZM1119.08 360.22H1133.85V362.3H1119.08ZM1135.69 360.22H1141.46V362.3H1135.69ZM1257.75 360.22H1264.91V362.3H1257.75ZM1331.36 360.22H1342.66V362.3H1331.36ZM1349.82 360.22H1355.35V362.3H1349.82ZM1364.58 360.22H1371.97V362.3H1364.58ZM1379.12 360.22H1386.5V362.3H1379.12ZM1388.35 360.22H1393.89V362.3H1388.35ZM1395.73 360.22H1406.81V362.3H1395.73ZM1421.8 360.22H1429.19V362.3H1421.8ZM1433.11 360.22H1493.79V362.3H1433.11ZM1510.18 360.22H1517.56V362.3H1510.18ZM1538.09 360.22H1543.63V362.3H1538.09ZM1569.24 360.22H1582.16V362.3H1569.24ZM1589.55 360.22H1650V362.3H1589.55ZM1464.26 358.38H1471.87V362.3H1464.26ZM1473.03 358.38H1475.33V362.3H1473.03ZM1593.01 362.3V360.2H1594.89V359.06H1596.77V359.05H1598.66V358.7H1600.54V358.97H1602.42V358.54H1604.3V358.08H1606.18V357.99H1608.07V357.52H1609.95V356.42H1611.83V356.01H1613.71V355.92H1615.6V355.17H1617.48V355.16H1619.36V356.05H1621.24V357.06H1623.13V357.32H1625.01V358H1626.89V359.24H1628.77V362.3ZM1650 360.22H1681.84V362.3H1650ZM1698.45 360.22H1706.07V362.3H1698.45ZM1711.14 360.22H1716.91V362.3H1711.14ZM1718.76 360.22H1728.45V362.3H1718.76ZM1739.06 360.22H1746.45V362.3H1739.06ZM1748.52 360.22H1764.91V362.3H1748.52ZM1766.98 360.22H1785.44V362.3H1766.98ZM1789.13 360.22H1816.59V362.3H1789.13ZM1820.28 360.22H1827.66V362.3H1820.28ZM1835.05 360.22H1848.43V362.3H1835.05ZM1857.2 360.22H1871.97V362.3H1857.2ZM1877.27 360.22H1884.89V362.3H1877.27ZM1888.58 360.22H2019.87V362.3H1888.58ZM2021.48 360.22H2028.86V362.3H2021.48ZM2076.86 360.22H2082.4V362.3H2076.86ZM2091.39 360.22H2100.62V362.3H2091.39ZM2104.55 360.22H2110.31V362.3H2104.55ZM2119.08 360.22H2146.77V362.3H2119.08ZM1650 362.3V358.2H1651.89V357.75H1653.78V356.76H1655.66V356.45H1657.55V355.95H1659.44V355.79H1661.33V357.08H1663.21V358.03H1665.1V358.92H1666.99V359.82H1668.88V360.7H1670.77V362.3ZM1888.58 362.3V360.68H1890.43V359.76H1892.28V358.82H1894.13V357.55H1895.98V356.97H1897.82V355.67H1899.67V355.12H1901.52V354.44H1903.37V353.82H1905.22V353.18H1907.07V352.71H1908.92V351.95H1910.77V351.83H1912.62V351.92H1914.47V353.35H1916.32V353.81H1918.16V352.94H1920.01V353H1921.86V352.73H1923.71V348.72H1925.56V347.67H1927.41V347.94H1929.26V346.63H1931.11V354.52H1932.96V354.81H1934.81V356.39H1936.66V357.81H1938.5V356.93H1940.35V355.74H1942.2V351.05H1944.05V351.4H1945.9V351.69H1947.75V353.26H1949.6V355.65H1951.45V356.61H1953.3V356.57H1955.15V355.23H1957V355.34H1958.85V356.6H1960.69V356.55H1962.54V357.18H1964.39V357.05H1966.24V356.27H1968.09V355.06H1969.94V352.41H1971.79V349H1973.64V346.55H1975.49V347.9H1977.34V349.37H1979.19V353.89H1981.03V356.49H1982.88V356.95H1984.73V357.1H1986.58V357.28H1988.43V356.33H1990.28V355.9H1992.13V356.02H1993.98V360.29H1995.83V360.45H1997.68V360.45H1999.53V360.45H2001.37V360.45H2003.22V360.45H2005.07V359.52H2006.92V358.95H2008.77V359.48H2010.62V359.37H2012.47V359.36H2014.32V359.04H2016.17V358.92H2018.02V360.43H2019.87V362.3Z"/>
<path fill="#5c7b96" d="M153.46 419.06H159.92V422.29H153.46ZM279.67 419.06H309.21V422.29H279.67ZM316.59 419.06H324.2V422.29H316.59ZM471.41 419.06H478.8V422.29H471.41ZM561.86 419.06H569.47V422.29H561.86ZM279.67 422.29V417.75H281.49V413.35H283.31V413.66H285.12V413.38H286.94V413.57H288.76V413.5H290.57V413.78H292.39V415.61H294.21V408.33H296.03V408.35H297.84V407.5H299.66V413.21H301.48V413.42H303.29V415.97H305.11V417.47H306.93V417.94H308.74V422.29ZM724.3 419.06H731.91V422.29H724.3ZM787.29 419.06H794.67V422.29H787.29ZM835.05 419.06H842.66V422.29H835.05ZM955.03 419.06H962.64V422.29H955.03ZM1039.94 419.06H1046.86V422.29H1039.94ZM661.54 416.98H668.92V422.29H661.54ZM966.11 422.29V410.48H967.94V406.47H969.77V407H971.6V408.12H973.43V411.73H975.26V407.21H977.09V406.87H978.93V404.01H980.76V385.62H982.59V374.82H984.42V372.13H986.25V370.61H988.08V385.57H989.91V405.85H991.75V407.82H993.58V411.66H995.41V422.29ZM1150 419.06H1158.08V422.29H1150ZM1257.75 419.06H1264.91V422.29H1257.75ZM1371.97 419.06H1379.35V422.29H1371.97ZM1467.95 419.06H1475.33V422.29H1467.95ZM1510.18 419.06H1515.71V422.29H1510.18ZM1534.17 419.06H1545.25V422.29H1534.17ZM1399.65 416.98H1406.81V422.29H1399.65ZM1538.09 416.98H1541.79V422.29H1538.09ZM1888.58 419.06H1895.96V422.29H1888.58ZM1910.73 419.06H1918.11V422.29H1910.73ZM1931.03 419.06H1938.42V422.29H1931.03ZM1967.95 419.06H1988.02V422.29H1967.95ZM2021.48 419.06H2028.86V422.29H2021.48ZM2039.94 419.06H2047.32V422.29H2039.94ZM2130.39 419.06H2137.77V422.29H2130.39ZM1668.92 417.67H1676.53V422.29H1668.92ZM1671.23 416.98H1676.53V422.29H1671.23ZM1846.12 418.14H1853.51V422.29H1846.12ZM1846.12 416.98H1851.89V422.29H1846.12ZM1977.18 413.06H1982.72V422.29H1977.18ZM1982.72 417.67H1985.72V422.29H1982.72ZM2132.23 418.83H2137.77V422.29H2132.23ZM2097.16 422.29V409.01H2099.01V405.44H2100.85V404.5H2102.7V402.62H2104.55V400.98H2106.39V402.07H2108.24V404.72H2110.08V419.03H2111.93V419H2113.77V422.29Z"/>
<path fill="#ff00e0" d="M984.1 366.91H986.87V370.37H984.1Z"/>
<path fill="#5ea8b2" d="M153.46 480.66H159.92V482.74H153.46ZM239.29 480.66H246.45V482.74H239.29ZM248.06 480.66H264.67V482.74H248.06ZM268.14 480.66H276.21V482.74H268.14ZM281.52 480.66H290.75V482.74H281.52ZM301.59 480.66H309.21V482.74H301.59ZM310.82 480.66H324.2V482.74H310.82ZM421.57 480.66H429.19V482.74H421.57ZM480.41 480.66H486.87V482.74H480.41ZM521.02 480.66H534.17V482.74H521.02ZM543.4 480.66H551.02V482.74H543.4ZM556.55 480.66H561.86V482.74H556.55ZM563.71 480.66H571.09V482.74H563.71ZM596.93 480.66H609.85V482.74H596.93ZM253.83 478.36H261.91V482.74H253.83ZM259.6 477.2H261.21V482.74H259.6ZM284.98 478.82H288.44V482.74H284.98ZM598.78 477.2H606.16V482.74H598.78ZM681.84 480.66H760.75V482.74H681.84ZM764.67 480.66H772.29V482.74H764.67ZM785.44 480.66H820.05V482.74H785.44ZM823.74 480.66H831.36V482.74H823.74ZM835.05 480.66H843.82V482.74H835.05ZM855.35 480.66H868.04V482.74H855.35ZM877.27 480.66H884.66V482.74H877.27ZM916.04 480.66H925.27V482.74H916.04ZM941.88 480.66H954.57V482.74H941.88ZM966.11 480.66H973.03V482.74H966.11ZM984.56 480.66H989.87V482.74H984.56ZM1039.94 480.66H1046.86V482.74H1039.94ZM1126.47 480.66H1132.23V482.74H1126.47ZM1141.46 480.66H1150V482.74H1141.46ZM661.54 478.82H668.92V482.74H661.54ZM689.22 479.28H705.38V482.74H689.22ZM699.61 477.2H701.92V482.74H699.61ZM719.22 479.28H729.6V482.74H719.22ZM729.6 477.2H748.06V482.74H729.6ZM751.52 477.2H759.6V482.74H751.52ZM787.29 477.2H811.51V482.74H787.29ZM811.51 479.97H820.05V482.74H811.51ZM836.89 478.82H841.51V482.74H836.89ZM855.35 477.2H868.04V482.74H855.35ZM862.74 473.05H864.58V482.74H862.74ZM917.65 478.82H923.42V482.74H917.65ZM944.19 478.82H951.11V482.74H944.19ZM1150 480.66H1156.23V482.74H1150ZM1233.76 480.66H1240.91V482.74H1233.76ZM1283.36 480.66H1290.75V482.74H1283.36ZM1364.58 480.66H1375.43V482.74H1364.58ZM1379.12 480.66H1386.5V482.74H1379.12ZM1455.03 480.66H1462.41V482.74H1455.03ZM1499.1 480.66H1512.02V482.74H1499.1ZM1515.71 480.66H1523.1V482.74H1515.71ZM1541.56 480.66H1548.94V482.74H1541.56ZM1615.62 480.66H1623V482.74H1615.62ZM1366.43 477.2H1371.97V482.74H1366.43ZM1504.87 479.51H1506.71V482.74H1504.87ZM1672.38 480.66H1678.15V482.74H1672.38ZM1729.83 480.66H1737.22V482.74H1729.83ZM1809.21 480.66H1816.59V482.74H1809.21ZM1825.82 480.66H1840.82V482.74H1825.82ZM1995.64 480.66H2001.18V482.74H1995.64Z"/>
<path fill="#3c6e88" d="M153.46 504.23H158.08V542.76H153.46ZM159.69 489.23H161.08V542.76H159.69ZM161.08 499.61H162.92V542.76H161.08ZM163.38 489.23H165.23V542.76H163.38ZM165.23 531.92H167.31V542.76H165.23ZM167.31 496.15H168.92V542.76H167.31ZM168.92 522.69H170.77V542.76H168.92ZM170.77 538.84H173.07V542.76H170.77ZM173.07 541.14H180V542.76H173.07ZM186.92 538.84H188.76V542.76H186.92ZM189.22 516.92H191.07V542.76H189.22ZM191.07 538.84H192.69V542.76H191.07ZM192.69 527.99H194.3V542.76H192.69ZM200.3 527.99H202.15V542.76H200.3ZM206.07 539.99H207.68V542.76H206.07ZM207.68 505.84H209.53V542.76H207.68ZM209.53 539.99H211.14V542.76H209.53ZM211.14 519.22H215.07V542.76H211.14ZM220.37 487.61H222.45V542.76H220.37ZM223.83 524.99H225.68V542.76H223.83ZM226.14 501.92H227.76V542.76H226.14ZM235.37 500.3H237.22V542.76H235.37ZM242.29 487.61H244.6V542.76H242.29ZM244.6 507.69H248.06V542.76H244.6ZM248.06 491.08H249.91V542.76H248.06ZM253.83 498.46H255.68V542.76H253.83ZM259.14 487.61H260.98V542.76H259.14ZM260.98 501.92H263.06V542.76H260.98ZM264.67 495H266.52V542.76H264.67ZM266.52 501.92H268.83V542.76H266.52ZM268.83 514.61H270.44V542.76H268.83ZM272.29 489.23H274.13V542.76H272.29ZM274.13 519.22H280.36V542.76H274.13ZM280.36 509.53H281.98V542.76H280.36ZM283.36 498.46H284.98V542.76H283.36ZM287.29 514.61H289.13V542.76H287.29ZM289.13 509.53H290.75V542.76H289.13ZM290.75 537.68H294.21V542.76H290.75ZM294.21 501.92H296.52V542.76H294.21ZM296.52 487.61H298.13V542.76H296.52ZM298.13 519.22H299.98V542.76H298.13ZM318.44 524.99H320.05V542.76H318.44ZM320.05 495H322.13V542.76H320.05ZM325.36 507.69H327.66V542.76H325.36ZM327.66 528.45H329.51V542.76H327.66ZM329.51 498.92H331.36V542.76H329.51ZM333.43 487.61H335.05V542.76H333.43ZM338.74 493.38H340.59V542.76H338.74ZM344.51 511.61H346.12V542.76H344.51ZM346.12 519.22H347.97V542.76H346.12ZM349.82 515.3H351.66V542.76H349.82ZM351.66 529.61H353.51V542.76H351.66ZM355.35 537.68H356.97V542.76H355.35ZM357.2 511.61H358.81V542.76H357.2ZM362.74 487.61H364.58V542.76H362.74ZM366.2 513.46H368.04V542.76H366.2ZM368.04 504.23H370.35V542.76H368.04ZM370.35 507.69H371.97V542.76H370.35ZM371.97 491.08H373.81V542.76H371.97ZM376.12 509.53H377.73V542.76H376.12ZM377.73 524.99H380.73V542.76H377.73ZM380.73 504.23H385.35V542.76H380.73ZM385.35 507.69H386.96V542.76H385.35ZM386.96 515.3H388.58V542.76H386.96ZM394.12 522.69H395.96V542.76H394.12ZM395.96 521.07H397.81V542.76H395.96ZM399.65 523.84H401.5V542.76H399.65ZM404.96 516.92H406.81V542.76H404.96ZM406.81 534.22H408.65V542.76H406.81ZM410.73 541.14H412.34V542.76H410.73ZM412.34 515.3H414.19V542.76H412.34ZM421.57 530.3H426.88V542.76H421.57ZM426.88 491.08H429.19V542.76H426.88ZM429.19 495H430.8V542.76H429.19ZM436.11 511.61H438.42V542.76H436.11ZM438.42 535.38H441.88V542.76H438.42ZM441.88 535.38H443.49V542.76H441.88ZM443.49 493.38H445.57V542.76H443.49ZM447.65 515.3H449.26V542.76H447.65ZM451.11 495H452.95V542.76H451.11ZM458.49 507.69H460.34V542.76H458.49ZM462.18 529.61H464.03V542.76H462.18ZM464.03 537.68H466.11V542.76H464.03ZM469.57 526.15H471.41V542.76H469.57ZM471.41 496.61H473.03V542.76H471.41ZM473.03 512.3H475.33V542.76H473.03ZM475.33 498.92H477.18V542.76H475.33ZM477.18 538.84H478.8V542.76H477.18ZM480.41 541.14H488.02V542.76H480.41ZM490.33 539.53H491.95V542.76H490.33ZM499.1 527.99H500.95V542.76H499.1ZM504.64 496.61H506.48V542.76H504.64ZM508.1 493.38H509.94V542.76H508.1ZM513.87 531.92H515.71V542.76H513.87ZM517.56 521.07H519.4V542.76H517.56ZM521.02 523.84H523.1V542.76H521.02ZM523.1 515.3H524.94V542.76H523.1ZM526.79 537.68H528.4V542.76H526.79ZM528.4 500.77H530.71V542.76H528.4ZM530.71 531.92H532.33V542.76H530.71ZM534.17 538.84H535.79V542.76H534.17ZM535.79 519.22H537.63V542.76H535.79ZM541.56 511.61H543.4V542.76H541.56ZM543.4 529.61H545.25V542.76H543.4ZM546.86 524.3H550.78V542.76H546.86ZM554.48 513.46H556.32V542.76H554.48ZM557.94 504.23H559.78V542.76H557.94ZM559.78 489.69H561.86V542.76H559.78ZM561.86 501.92H564.17V542.76H561.86ZM564.17 491.54H565.78V542.76H564.17ZM565.78 497.31H567.63V542.76H565.78ZM567.63 489.69H569.47V542.76H567.63ZM569.47 505.84H572.7V542.76H569.47ZM572.7 521.07H574.55V542.76H572.7ZM574.55 534.22H576.4V542.76H574.55ZM576.4 537.68H581.47V542.76H576.4ZM587.7 538.84H589.55V542.76H587.7ZM589.55 511.61H591.39V542.76H589.55ZM591.39 535.38H593.24V542.76H591.39ZM593.24 524.99H595.09V542.76H593.24ZM595.09 509.53H596.93V542.76H595.09ZM600.62 507.69H602.47V542.76H600.62ZM604.08 515.3H605.93V542.76H604.08ZM608.01 496.61H609.85V542.76H608.01ZM609.85 522.69H613.77V542.76H609.85ZM626.47 516.92H628.31V542.76H626.47ZM628.31 511.61H630.16V542.76H628.31ZM630.16 522.69H632.23V542.76H630.16ZM633.85 526.15H635.69V542.76H633.85ZM639.16 507.69H641.46V542.76H639.16ZM644.92 515.3H647.23V542.76H644.92ZM647.23 500.77H650V542.76H647.23ZM650 500.3H651.15V542.76H650ZM652.31 527.99H654.15V542.76H652.31ZM654.15 515.3H658.08V542.76H654.15ZM668.92 519.22H670.77V542.76H668.92ZM672.38 523.84H674.23V542.76H672.38ZM674.23 507.69H676.53V542.76H674.23ZM676.53 514.61H680V542.76H676.53ZM680 498.46H681.84V542.76H680ZM683.46 491.08H685.76V542.76H683.46ZM687.38 507.69H689.22V542.76H687.38ZM691.07 538.84H693.15V542.76H691.07ZM693.15 496.61H696.84V542.76H693.15ZM696.84 487.61H698.68V542.76H696.84ZM698.68 496.61H700.3V542.76H698.68ZM707.68 531.92H709.53V542.76H707.68ZM715.3 491.08H717.14V542.76H715.3ZM722.22 531.92H724.3V542.76H722.22ZM724.3 487.61H726.14V542.76H724.3ZM727.99 515.3H729.83V542.76H727.99ZM729.83 537.68H735.37V542.76H729.83ZM737.22 502.38H739.06V542.76H737.22ZM741.14 509.53H742.75V542.76H741.14ZM742.75 500.3H744.6V542.76H742.75ZM746.45 520.38H748.52V542.76H746.45ZM753.83 522.69H755.68V542.76H753.83ZM757.75 498.46H759.6V542.76H757.75ZM759.6 541.14H761.21V542.76H759.6ZM770.44 495H772.52V542.76H770.44ZM783.36 531.92H785.21V542.76H783.36ZM794.21 530.3H796.05V542.76H794.21ZM796.05 516.92H798.13V542.76H796.05ZM798.13 534.22H799.98V542.76H798.13ZM799.98 511.61H801.82V542.76H799.98ZM801.82 530.3H803.44V542.76H801.82ZM805.28 524.3H807.36V542.76H805.28ZM811.05 515.3H812.9V542.76H811.05ZM838.74 500.3H840.59V542.76H838.74ZM840.59 498.46H842.43V542.76H840.59ZM842.43 515.3H844.28V542.76H842.43ZM844.28 519.22H846.12V542.76H844.28ZM849.82 502.38H851.66V542.76H849.82ZM853.51 500.3H855.35V542.76H853.51ZM855.35 521.07H857.2V542.76H855.35ZM857.2 523.84H859.04V542.76H857.2ZM859.04 524.3H860.89V542.76H859.04ZM860.89 496.61H862.74V542.76H860.89ZM862.74 522.69H864.58V542.76H862.74ZM868.04 491.08H870.12V542.76H868.04ZM873.81 509.53H875.66V542.76H873.81ZM877.27 509.53H879.35V542.76H877.27ZM883.04 516.92H884.89V542.76H883.04ZM888.35 526.15H890.42V542.76H888.35ZM897.58 524.3H899.65V542.76H897.58ZM907.27 493.38H909.11V542.76H907.27ZM909.11 511.61H910.96V542.76H909.11ZM912.57 493.38H914.42V542.76H912.57ZM914.42 527.99H916.27V542.76H914.42ZM916.27 522.69H918.11V542.76H916.27ZM919.96 495H921.8V542.76H919.96ZM925.27 509.53H927.57V542.76H925.27ZM927.57 505.84H929.19V542.76H927.57ZM931.03 507.69H932.88V542.76H931.03ZM932.88 500.3H934.73V542.76H932.88ZM934.73 541.14H936.57V542.76H934.73ZM958.72 522.69H960.57V542.76H958.72ZM966.11 498.46H967.95V542.76H966.11ZM982.26 535.38H984.56V542.76H982.26ZM989.87 502.38H993.79V542.76H989.87ZM995.41 535.38H997.25V542.76H995.41ZM997.25 504.23H999.1V542.76H997.25ZM999.1 524.3H1000.95V542.76H999.1ZM1003.02 489.23H1006.48V542.76H1003.02ZM1006.48 487.61H1008.33V542.76H1006.48ZM1010.18 515.3H1012.02V542.76H1010.18ZM1012.02 487.61H1013.87V542.76H1012.02ZM1023.1 489.23H1024.94V542.76H1023.1ZM1024.94 496.61H1026.79V542.76H1024.94ZM1026.79 493.38H1028.63V542.76H1026.79ZM1030.71 489.23H1032.56V542.76H1030.71ZM1032.56 507.69H1034.17V542.76H1032.56ZM1034.17 519.22H1036.02V542.76H1034.17ZM1039.94 487.61H1041.79V542.76H1039.94ZM1046.86 507.69H1050.78V542.76H1046.86ZM1060.01 495H1061.86V542.76H1060.01ZM1061.86 491.08H1063.71V542.76H1061.86ZM1063.71 489.23H1065.55V542.76H1063.71ZM1069.47 487.61H1071.32V542.76H1069.47ZM1080.32 519.22H1082.4V542.76H1080.32ZM1087.7 502.38H1089.78V542.76H1087.7ZM1095.32 515.3H1097.16V542.76H1095.32ZM1097.16 487.61H1099.01V542.76H1097.16ZM1099.01 504.23H1100.85V542.76H1099.01ZM1100.85 500.3H1102.7V542.76H1100.85ZM1102.7 495H1104.55V542.76H1102.7ZM1121.16 496.61H1123V542.76H1121.16ZM1124.62 515.3H1126.47V542.76H1124.62ZM1132.23 502.38H1134.08V542.76H1132.23ZM1134.08 516.92H1135.93V542.76H1134.08ZM1135.93 500.3H1137.77V542.76H1135.93ZM1143.31 513.46H1145.15V542.76H1143.31ZM1145.15 491.08H1147V542.76H1145.15ZM1147 515.3H1150V542.76H1147ZM1150 489.23H1152.31V542.76H1150ZM1166.84 511.61H1168.92V542.76H1166.84ZM1176.07 496.61H1177.92V542.76H1176.07ZM1177.92 523.84H1180V542.76H1177.92ZM1180 507.69H1181.84V542.76H1180ZM1183.46 487.61H1185.76V542.76H1183.46ZM1189.22 487.61H1191.07V542.76H1189.22ZM1191.07 515.3H1192.92V542.76H1191.07ZM1194.99 502.38H1196.84V542.76H1194.99ZM1202.38 541.14H1204.22V542.76H1202.38ZM1205.84 509.53H1207.68V542.76H1205.84ZM1207.68 491.08H1209.53V542.76H1207.68ZM1213.45 527.99H1215.3V542.76H1213.45ZM1220.37 487.61H1222.45V542.76H1220.37ZM1226.14 487.61H1227.99V542.76H1226.14ZM1227.99 541.14H1229.83V542.76H1227.99ZM1233.53 504.23H1235.37V542.76H1233.53ZM1235.37 515.3H1237.68V542.76H1235.37ZM1239.06 500.3H1240.91V542.76H1239.06ZM1240.91 495H1242.75V542.76H1240.91ZM1242.75 487.61H1244.6V542.76H1242.75ZM1246.45 489.23H1248.29V542.76H1246.45ZM1248.29 507.69H1250.14V542.76H1248.29ZM1250.14 491.08H1251.98V542.76H1250.14ZM1253.83 513.46H1255.68V542.76H1253.83ZM1255.68 498.92H1257.52V542.76H1255.68ZM1257.52 487.61H1259.37V542.76H1257.52ZM1261.21 487.61H1263.06V542.76H1261.21ZM1263.06 496.61H1264.91V542.76H1263.06ZM1264.91 519.22H1266.75V542.76H1264.91ZM1270.44 524.3H1272.29V542.76H1270.44ZM1274.13 487.61H1275.98V542.76H1274.13ZM1278.06 504.23H1279.9V542.76H1278.06ZM1283.36 487.61H1285.21V542.76H1283.36ZM1292.36 489.23H1294.21V542.76H1292.36ZM1294.21 509.53H1296.05V542.76H1294.21ZM1296.05 504.23H1297.9V542.76H1296.05ZM1301.82 521.07H1303.67V542.76H1301.82ZM1303.67 502.38H1305.51V542.76H1303.67ZM1305.51 493.38H1307.36V542.76H1305.51ZM1320.28 487.61H1322.13V542.76H1320.28ZM1323.74 487.61H1325.59V542.76H1323.74ZM1327.66 496.61H1329.51V542.76H1327.66ZM1329.51 489.23H1331.36V542.76H1329.51ZM1333.2 487.61H1335.05V542.76H1333.2ZM1340.59 495H1342.43V542.76H1340.59ZM1344.28 521.07H1346.12V542.76H1344.28ZM1349.82 495H1351.66V542.76H1349.82ZM1355.35 513.46H1357.2V542.76H1355.35ZM1359.04 498.46H1360.89V542.76H1359.04ZM1364.58 509.53H1366.43V542.76H1364.58ZM1370.12 522.69H1371.97V542.76H1370.12ZM1377.27 491.08H1379.35V542.76H1377.27ZM1381.2 489.69H1384.89V542.76H1381.2ZM1384.89 488.08H1388.58V542.76H1384.89ZM1388.58 487.61H1390.42V542.76H1388.58ZM1390.42 493.38H1392.27V542.76H1390.42ZM1398.04 487.61H1401.5V542.76H1398.04ZM1403.35 493.38H1405.19V542.76H1403.35ZM1405.19 487.61H1407.04V542.76H1405.19ZM1416.27 539.53H1418.11V542.76H1416.27ZM1418.11 526.15H1419.96V542.76H1418.11ZM1421.8 535.38H1423.65V542.76H1421.8ZM1425.5 516.92H1427.34V542.76H1425.5ZM1431.03 493.38H1432.88V542.76H1431.03ZM1432.88 489.23H1434.73V542.76H1432.88ZM1434.73 498.46H1436.57V542.76H1434.73ZM1436.57 487.61H1440.26V542.76H1436.57ZM1440.26 495H1443.95V542.76H1440.26ZM1443.95 487.61H1445.8V542.76H1443.95ZM1447.65 487.61H1451.34V542.76H1447.65ZM1451.34 491.08H1453.18V542.76H1451.34ZM1455.03 500.3H1456.88V542.76H1455.03ZM1458.72 487.61H1460.57V542.76H1458.72ZM1460.57 491.08H1462.41V542.76H1460.57ZM1464.26 496.61H1467.95V542.76H1464.26ZM1467.95 498.92H1471.64V542.76H1467.95ZM1471.64 502.38H1473.49V542.76H1471.64ZM1473.49 502.38H1475.33V542.76H1473.49ZM1475.33 524.3H1477.18V542.76H1475.33ZM1481.1 527.99H1482.95V542.76H1481.1ZM1484.56 504.23H1486.41V542.76H1484.56ZM1488.26 491.08H1490.1V542.76H1488.26ZM1493.79 498.92H1495.64V542.76H1493.79ZM1495.64 493.38H1497.49V542.76H1495.64ZM1497.49 489.23H1501.18V542.76H1497.49ZM1501.18 493.38H1503.02V542.76H1501.18ZM1504.87 489.69H1506.71V542.76H1504.87ZM1508.33 487.61H1512.25V542.76H1508.33ZM1512.25 489.23H1514.1V542.76H1512.25ZM1514.1 493.38H1515.94V542.76H1514.1ZM1515.94 495H1517.79V542.76H1515.94ZM1519.64 505.84H1521.48V542.76H1519.64ZM1521.48 489.23H1523.33V542.76H1521.48ZM1530.71 487.61H1532.56V542.76H1530.71ZM1534.17 487.61H1539.94V542.76H1534.17ZM1563.71 491.08H1565.55V542.76H1563.71ZM1569.24 504.23H1572.93V542.76H1569.24ZM1574.78 487.61H1576.63V542.76H1574.78ZM1578.47 502.38H1580.32V542.76H1578.47ZM1584.01 504.23H1586.09V542.76H1584.01ZM1587.7 493.38H1589.55V542.76H1587.7ZM1589.55 513.46H1591.62V542.76H1589.55ZM1602.24 535.38H1604.55V542.76H1602.24ZM1608.01 541.14H1613.77V542.76H1608.01ZM1615.62 541.14H1620.7V542.76H1615.62ZM1620.7 539.53H1623V542.76H1620.7ZM1624.62 539.53H1628.77V542.76H1624.62ZM1628.77 530.3H1630.62V542.76H1628.77ZM1630.62 539.53H1632.23V542.76H1630.62ZM1635.93 502.38H1637.77V542.76H1635.93ZM1637.77 504.23H1641.46V542.76H1637.77ZM1641.46 534.22H1643.31V542.76H1641.46ZM1645.15 524.3H1647V542.76H1645.15ZM1647 507.69H1648.85V542.76H1647ZM1654.15 527.99H1656V542.76H1654.15ZM1656 537.68H1659.69V542.76H1656ZM1661.54 535.38H1663.38V542.76H1661.54ZM1663.38 519.22H1665.23V542.76H1663.38ZM1665.23 536.53H1668.92V542.76H1665.23ZM1668.92 496.61H1670.77V542.76H1668.92ZM1670.77 502.38H1672.61V542.76H1670.77ZM1674.46 489.23H1676.3V542.76H1674.46ZM1680 487.61H1681.84V542.76H1680ZM1683.69 487.61H1685.53V542.76H1683.69ZM1694.99 489.69H1698.45V542.76H1694.99ZM1698.45 487.61H1700.3V542.76H1698.45ZM1700.3 493.38H1702.15V542.76H1700.3ZM1703.99 487.61H1705.84V542.76H1703.99ZM1707.68 487.61H1709.53V542.76H1707.68ZM1709.53 530.3H1711.38V542.76H1709.53ZM1716.91 493.38H1718.76V542.76H1716.91ZM1720.6 487.61H1722.45V542.76H1720.6ZM1727.99 509.53H1729.83V542.76H1727.99ZM1737.22 487.61H1739.06V542.76H1737.22ZM1746.45 496.61H1748.29V542.76H1746.45ZM1751.98 487.61H1753.83V542.76H1751.98ZM1763.06 515.3H1764.91V542.76H1763.06ZM1768.6 504.23H1770.44V542.76H1768.6ZM1774.13 507.69H1775.98V542.76H1774.13ZM1783.36 524.3H1785.21V542.76H1783.36ZM1788.9 537.68H1792.59V542.76H1788.9ZM1792.59 539.53H1796.29V542.76H1792.59ZM1796.29 500.3H1798.13V542.76H1796.29ZM1801.82 487.61H1803.67V542.76H1801.82ZM1803.67 491.08H1805.51V542.76H1803.67ZM1805.51 514.61H1807.36V542.76H1805.51ZM1807.36 496.61H1809.21V542.76H1807.36ZM1809.21 487.61H1811.05V542.76H1809.21ZM1811.05 493.38H1812.9V542.76H1811.05ZM1812.9 487.61H1814.74V542.76H1812.9ZM1814.74 526.15H1816.59V542.76H1814.74ZM1816.59 489.23H1820.28V542.76H1816.59ZM1822.13 502.38H1823.97V542.76H1822.13ZM1827.66 502.38H1829.51V542.76H1827.66ZM1831.36 500.3H1833.2V542.76H1831.36ZM1833.2 491.08H1835.05V542.76H1833.2ZM1838.74 511.61H1840.59V542.76H1838.74ZM1842.43 504.23H1844.28V542.76H1842.43ZM1853.51 489.23H1859.04V542.76H1853.51ZM1859.04 489.23H1862.74V542.76H1859.04ZM1862.74 491.08H1864.58V542.76H1862.74ZM1864.58 511.61H1866.43V542.76H1864.58ZM1870.12 535.38H1871.97V542.76H1870.12ZM1875.66 513.46H1877.5V542.76H1875.66ZM1881.2 498.92H1883.04V542.76H1881.2ZM1884.89 487.61H1886.73V542.76H1884.89ZM1890.42 538.84H1892.27V542.76H1890.42ZM1892.27 516.92H1894.12V542.76H1892.27ZM1894.12 531.92H1895.96V542.76H1894.12ZM1897.81 519.22H1899.65V542.76H1897.81ZM1901.5 507.69H1903.35V542.76H1901.5ZM1903.35 493.38H1905.19V542.76H1903.35ZM1905.19 491.08H1907.04V542.76H1905.19ZM1907.04 540.45H1910.73V542.76H1907.04ZM1912.57 541.14H1919.96V542.76H1912.57ZM1923.65 537.22H1925.5V542.76H1923.65ZM1929.19 491.08H1931.03V542.76H1929.19ZM1942.11 496.61H1943.95V542.76H1942.11ZM1949.49 498.92H1951.34V542.76H1949.49ZM1953.18 493.38H1956.88V542.76H1953.18ZM1958.72 498.92H1960.57V542.76H1958.72ZM1962.41 509.53H1964.26V542.76H1962.41ZM1964.26 526.15H1966.11V542.76H1964.26ZM1967.95 524.3H1969.8V542.76H1967.95ZM1971.64 496.61H1973.49V542.76H1971.64ZM1973.49 489.23H1975.33V542.76H1973.49ZM1975.33 491.08H1979.03V542.76H1975.33ZM1980.87 516.92H1982.72V542.76H1980.87ZM1982.72 527.99H1984.56V542.76H1982.72ZM1988.26 505.84H1990.1V542.76H1988.26ZM1990.1 493.38H1991.95V542.76H1990.1ZM1993.79 487.61H1995.64V542.76H1993.79ZM1995.64 493.38H1997.49V542.76H1995.64ZM1997.49 527.99H1999.33V542.76H1997.49ZM2001.18 496.61H2003.02V542.76H2001.18ZM2003.02 487.61H2004.87V542.76H2003.02ZM2004.87 489.69H2006.71V542.76H2004.87ZM2006.71 540.45H2009.94V542.76H2006.71ZM2009.94 538.84H2014.1V542.76H2009.94ZM2014.1 535.38H2015.94V542.76H2014.1ZM2023.33 498.46H2025.17V542.76H2023.33ZM2025.17 521.07H2027.02V542.76H2025.17ZM2034.4 504.23H2036.25V542.76H2034.4ZM2036.25 487.61H2038.09V542.76H2036.25ZM2039.94 509.53H2041.79V542.76H2039.94ZM2041.79 498.92H2043.63V542.76H2041.79ZM2047.32 491.08H2049.17V542.76H2047.32ZM2049.17 530.3H2051.02V542.76H2049.17ZM2051.02 507.69H2052.86V542.76H2051.02ZM2052.86 515.3H2054.71V542.76H2052.86ZM2056.55 507.69H2058.4V542.76H2056.55ZM2060.24 540.45H2062.09V542.76H2060.24ZM2067.63 496.61H2069.47V542.76H2067.63ZM2076.86 509.53H2078.7V542.76H2076.86ZM2080.55 498.46H2082.4V542.76H2080.55ZM2082.4 500.3H2084.24V542.76H2082.4ZM2084.24 498.46H2086.09V542.76H2084.24ZM2086.09 500.3H2087.93V542.76H2086.09ZM2087.93 505.84H2089.78V542.76H2087.93ZM2091.62 507.69H2093.47V542.76H2091.62ZM2093.47 500.3H2095.32V542.76H2093.47ZM2095.32 504.23H2097.16V542.76H2095.32ZM2097.16 505.84H2099.01V542.76H2097.16ZM2100.85 505.84H2102.7V542.76H2100.85ZM2102.7 495H2104.55V542.76H2102.7ZM2104.55 509.53H2106.39V542.76H2104.55ZM2106.39 502.38H2108.24V542.76H2106.39ZM2108.24 500.3H2110.08V542.76H2108.24ZM2124.85 537.22H2126.7V542.76H2124.85ZM2126.7 527.99H2128.54V542.76H2126.7ZM2130.39 507.69H2132.23V542.76H2130.39ZM2139.62 502.38H2141.46V542.76H2139.62ZM2143.31 487.61H2145.15V542.76H2143.31ZM2145.15 500.3H2147V542.76H2145.15Z"/>
<rect x="471.18" y="632.3" width="3.46" height="23.1" fill="#333"/>
<rect x="542.94" y="632.3" width="3.92" height="23.1" fill="#555"/>
<rect x="843.12" y="632.3" width="3.69" height="23.1" fill="#555"/>
<rect x="1063.01" y="632.3" width="5.08" height="23.1" fill="#3a3a3a"/>
<rect x="1068.09" y="632.3" width="1.85" height="23.1" fill="#999"/>
<rect x="1118.39" y="632.3" width="3.46" height="23.1" fill="#555"/>
<rect x="1142.16" y="632.3" width="3.46" height="23.1" fill="#555"/>
<rect x="1166.15" y="632.3" width="1.62" height="23.1" fill="#aaa"/>
<rect x="1175.38" y="632.3" width="1.85" height="23.1" fill="#aaa"/>
<rect x="1331.82" y="632.3" width="3.92" height="23.1" fill="#555"/>
<rect x="1377.96" y="632.3" width="1.85" height="23.1" fill="#555"/>
<rect x="1386.96" y="632.3" width="5.77" height="23.1" fill="#000"/>
<rect x="1426.19" y="632.3" width="1.85" height="23.1" fill="#888"/>
<rect x="1448.11" y="632.3" width="5.54" height="23.1" fill="#555"/>
<rect x="1488.49" y="632.3" width="2.31" height="23.1" fill="#777"/>
<rect x="1510.64" y="632.3" width="5.77" height="23.1" fill="#333"/>
<rect x="1534.63" y="632.3" width="5.77" height="23.1" fill="#333"/>
<rect x="1584.24" y="632.3" width="4.15" height="23.1" fill="#8c8c8c"/>
<rect x="1606.39" y="632.3" width="4.15" height="23.1" fill="#e4e4e4"/>
<rect x="1623" y="632.3" width="1.85" height="23.1" fill="#ccc"/>
<rect x="1626.93" y="632.3" width="5.77" height="23.1" fill="#3a3a3a"/>
<rect x="1638" y="632.3" width="1.85" height="23.1" fill="#111"/>
<rect x="1654.15" y="632.3" width="4.38" height="23.1" fill="#333"/>
<rect x="1665.46" y="632.3" width="6" height="23.1" fill="#3a3a3a"/>
<rect x="1694.99" y="632.3" width="5.77" height="23.1" fill="#333"/>
<rect x="1737.22" y="632.3" width="5.77" height="23.1" fill="#b0b0b0"/>
<rect x="1748.52" y="632.3" width="3.92" height="23.1" fill="#999"/>
<rect x="1901.5" y="632.3" width="5.54" height="23.1" fill="#333"/>
<rect x="1938.42" y="632.3" width="4.15" height="23.1" fill="#e8e8e8"/>
<rect x="1973.49" y="632.3" width="5.54" height="23.1" fill="#555"/>
<rect x="197.99" y="660.4" width="7.38" height="22.6" fill="#888"/>
<rect x="205.38" y="660.4" width="94.14" height="22.6" fill="#1c1c1c"/>
<rect x="299.52" y="660.4" width="16.61" height="22.6" fill="#8c8c8c"/>
<rect x="400.81" y="660.4" width="4.15" height="22.6" fill="#777"/>
<rect x="410.27" y="660.4" width="5.54" height="22.6" fill="#777"/>
<rect x="448.8" y="660.4" width="4.15" height="22.6" fill="#999"/>
<rect x="456.18" y="660.4" width="1.85" height="22.6" fill="#aaa"/>
<rect x="465.41" y="660.4" width="1.85" height="22.6" fill="#222"/>
<rect x="467.26" y="660.4" width="3.92" height="22.6" fill="#777"/>
<rect x="474.18" y="660.4" width="2.77" height="22.6" fill="#999"/>
<rect x="531.86" y="660.4" width="5.77" height="22.6" fill="#ccc"/>
<rect x="598.32" y="660.4" width="7.38" height="22.6" fill="#8c8c8c"/>
<rect x="605.7" y="660.4" width="44.3" height="22.6" fill="#1c1c1c"/>
<rect x="650" y="660.4" width="50.76" height="22.6" fill="#1c1c1c"/>
<rect x="700.76" y="660.4" width="17.31" height="22.6" fill="#8c8c8c"/>
<rect x="782.67" y="660.4" width="1.85" height="22.6" fill="#aaa"/>
<rect x="828.82" y="660.4" width="14.54" height="22.6" fill="#777"/>
<rect x="847.28" y="660.4" width="9.23" height="22.6" fill="#8c8c8c"/>
<rect x="893.42" y="660.4" width="18.46" height="22.6" fill="#8f8f8f"/>
<rect x="1022.17" y="660.4" width="11.31" height="22.6" fill="#1c1c1c"/>
<rect x="1134.54" y="660.4" width="2.31" height="22.6" fill="#e8e8e8"/>
<rect x="1142.16" y="660.4" width="2.08" height="22.6" fill="#777"/>
<rect x="1146.08" y="660.4" width="3.92" height="22.6" fill="#777"/>
<rect x="1150" y="660.4" width="10.84" height="22.6" fill="#777"/>
<rect x="1184.61" y="660.4" width="55.38" height="22.6" fill="#000"/>
<rect x="1239.99" y="660.4" width="32.99" height="22.6" fill="#1c1c1c"/>
<rect x="1276.44" y="660.4" width="5.77" height="22.6" fill="#e4e4e4"/>
<rect x="1287.98" y="660.4" width="9" height="22.6" fill="#e0e0e0"/>
<rect x="1373.81" y="660.4" width="4.15" height="22.6" fill="#e8e8e8"/>
<rect x="1394.58" y="660.4" width="3.92" height="22.6" fill="#aaa"/>
<rect x="1400.35" y="660.4" width="1.85" height="22.6" fill="#bbb"/>
<rect x="1431.5" y="660.4" width="5.77" height="22.6" fill="#ccc"/>
<rect x="1437.26" y="660.4" width="10.84" height="22.6" fill="#8c8c8c"/>
<rect x="1453.41" y="660.4" width="1.85" height="22.6" fill="#ccc"/>
<rect x="1455.26" y="660.4" width="2.08" height="22.6" fill="#999"/>
<rect x="1525.63" y="660.4" width="9.23" height="22.6" fill="#555"/>
<rect x="1540.4" y="660.4" width="1.85" height="22.6" fill="#555"/>
<rect x="1562.32" y="660.4" width="14.77" height="22.6" fill="#1c1c1c"/>
<rect x="1617.93" y="660.4" width="1.62" height="22.6" fill="#e8e8e8"/>
<rect x="1742.99" y="660.4" width="5.77" height="22.6" fill="#8c8c8c"/>
<rect x="1752.22" y="660.4" width="37.38" height="22.6" fill="#8f8f8f"/>
<rect x="1831.59" y="660.4" width="3.92" height="22.6" fill="#777"/>
<rect x="1842.66" y="660.4" width="3.92" height="22.6" fill="#777"/>
<rect x="1879.58" y="660.4" width="3.92" height="22.6" fill="#666"/>
<rect x="1898.04" y="660.4" width="3.46" height="22.6" fill="#444"/>
<rect x="1907.04" y="660.4" width="2.08" height="22.6" fill="#888"/>
<rect x="1964.26" y="660.4" width="5.54" height="22.6" fill="#e0e0e0"/>
<rect x="2030.71" y="660.4" width="7.38" height="22.6" fill="#8c8c8c"/>
<rect x="2038.09" y="660.4" width="71.99" height="22.6" fill="#1e1e1e"/>
<rect x="2110.08" y="660.4" width="14.77" height="22.6" fill="#8c8c8c"/>
<rect x="185.07" y="687.7" width="6" height="22.6" fill="#aaa"/>
<rect x="196.15" y="687.7" width="1.85" height="22.6" fill="#888"/>
<rect x="320.05" y="687.7" width="16.38" height="22.6" fill="#383838"/>
<rect x="349.58" y="687.7" width="18.46" height="22.6" fill="#585858"/>
<rect x="478.33" y="687.7" width="11.31" height="22.6" fill="#aaa"/>
<rect x="491.49" y="687.7" width="3.46" height="22.6" fill="#e4e4e4"/>
<rect x="587.24" y="687.7" width="5.77" height="22.6" fill="#aaa"/>
<rect x="596.01" y="687.7" width="2.08" height="22.6" fill="#777"/>
<rect x="723.83" y="687.7" width="16.15" height="22.6" fill="#1c1c1c"/>
<rect x="753.14" y="687.7" width="23.77" height="22.6" fill="#585858"/>
<rect x="776.9" y="687.7" width="1.85" height="22.6" fill="#888"/>
<rect x="806.44" y="687.7" width="2.31" height="22.6" fill="#777"/>
<rect x="810.36" y="687.7" width="3.46" height="22.6" fill="#e0e0e0"/>
<rect x="913.04" y="687.7" width="13.15" height="22.6" fill="#8c8c8c"/>
<rect x="926.19" y="687.7" width="3.69" height="22.6" fill="#ddd"/>
<rect x="946.95" y="687.7" width="3" height="22.6" fill="#777"/>
<rect x="949.95" y="687.7" width="9.23" height="22.6" fill="#555"/>
<rect x="959.18" y="687.7" width="36.92" height="22.6" fill="#777"/>
<rect x="996.1" y="687.7" width="6.23" height="22.6" fill="#8c8c8c"/>
<rect x="1002.33" y="687.7" width="10.61" height="22.6" fill="#777"/>
<rect x="1012.94" y="687.7" width="9.23" height="22.6" fill="#e4e4e4"/>
<rect x="1033.48" y="687.7" width="14.54" height="22.6" fill="#aaa"/>
<rect x="1048.02" y="687.7" width="5.77" height="22.6" fill="#8c8c8c"/>
<rect x="1053.78" y="687.7" width="7.38" height="22.6" fill="#555"/>
<rect x="1072.24" y="687.7" width="3.46" height="22.6" fill="#bbb"/>
<rect x="1075.7" y="687.7" width="5.31" height="22.6" fill="#ccc"/>
<rect x="1081.01" y="687.7" width="9.69" height="22.6" fill="#aaa"/>
<rect x="1092.32" y="687.7" width="24.23" height="22.6" fill="#8c8c8c"/>
<rect x="1168" y="687.7" width="5.54" height="22.6" fill="#777"/>
<rect x="1282.21" y="687.7" width="5.77" height="22.6" fill="#777"/>
<rect x="1337.59" y="687.7" width="7.38" height="22.6" fill="#555"/>
<rect x="1403.81" y="687.7" width="7.61" height="22.6" fill="#555"/>
<rect x="1466.57" y="687.7" width="7.61" height="22.6" fill="#e4e4e4"/>
<rect x="1477.64" y="687.7" width="11.08" height="22.6" fill="#777"/>
<rect x="1492.18" y="687.7" width="2.31" height="22.6" fill="#ddd"/>
<rect x="1516.41" y="687.7" width="7.38" height="22.6" fill="#c8c8c8"/>
<rect x="1523.79" y="687.7" width="1.85" height="22.6" fill="#777"/>
<rect x="1540.4" y="687.7" width="5.54" height="22.6" fill="#aaa"/>
<rect x="1547.78" y="687.7" width="7.38" height="22.6" fill="#777"/>
<rect x="1557.01" y="687.7" width="5.31" height="22.6" fill="#777"/>
<rect x="1577.09" y="687.7" width="2.08" height="22.6" fill="#555"/>
<rect x="1581.01" y="687.7" width="3.69" height="22.6" fill="#ccc"/>
<rect x="1590.24" y="687.7" width="5.54" height="22.6" fill="#8c8c8c"/>
<rect x="1627.16" y="687.7" width="1.62" height="22.6" fill="#aaa"/>
<rect x="1632.23" y="687.7" width="3.92" height="22.6" fill="#aaa"/>
<rect x="1636.16" y="687.7" width="5.31" height="22.6" fill="#444"/>
<rect x="1641.46" y="687.7" width="8.54" height="22.6" fill="#1c1c1c"/>
<rect x="1650" y="687.7" width="4.61" height="22.6" fill="#1c1c1c"/>
<rect x="1658.08" y="687.7" width="5.77" height="22.6" fill="#777"/>
<rect x="1671.23" y="687.7" width="23.77" height="22.6" fill="#8f8f8f"/>
<rect x="1700.76" y="687.7" width="1.85" height="22.6" fill="#999"/>
<rect x="1730.06" y="687.7" width="5.77" height="22.6" fill="#ccc"/>
<rect x="1910.96" y="687.7" width="12.92" height="22.6" fill="#aaa"/>
<rect x="2018.02" y="687.7" width="5.31" height="22.6" fill="#aaa"/>
<rect x="2028.86" y="687.7" width="1.85" height="22.6" fill="#777"/>
<rect x="2130.39" y="687.7" width="14.77" height="22.6" fill="#383838"/>
<rect x="355.35" y="558.45" width="195.66" height="2.3" fill="#0d0d80"/>
<path fill="none" stroke="#0d0d80" stroke-width="1.9" d="M365.65 555.7L362.15 559.6L365.65 563.5M379.55 555.7L376.05 559.6L379.55 563.5M395.01 555.7L391.51 559.6L395.01 563.5M404.24 555.7L400.74 559.6L404.24 563.5M413.47 555.7L409.97 559.6L413.47 563.5M422.7 555.7L419.2 559.6L422.7 563.5M443 555.7L439.5 559.6L443 563.5M452.23 555.7L448.73 559.6L452.23 563.5M461.46 555.7L457.96 559.6L461.46 563.5M470.69 555.7L467.19 559.6L470.69 563.5M479.92 555.7L476.42 559.6L479.92 563.5M489.15 555.7L485.65 559.6L489.15 563.5M498.38 555.7L494.88 559.6L498.38 563.5M507.61 555.7L504.11 559.6L507.61 563.5M516.84 555.7L513.34 559.6L516.84 563.5M536.06 555.7L532.56 559.6L536.06 563.5M545.29 555.7L541.79 559.6L545.29 563.5"/>
<rect x="371.04" y="551.3" width="3.92" height="16.6" fill="#0d0d80"/>
<rect x="380.73" y="551.3" width="5.08" height="16.6" fill="#0d0d80"/>
<rect x="428.5" y="551.3" width="5.31" height="16.6" fill="#0d0d80"/>
<rect x="522.63" y="551.3" width="5.31" height="16.6" fill="#0d0d80"/>
<rect x="343.82" y="555.3" width="11.54" height="8.6" fill="#0d0d80"/>
<rect x="355.35" y="551.3" width="1.6" height="16.6" fill="#0d0d80"/>
<rect x="549.72" y="551.3" width="2.2" height="16.6" fill="#0d0d80"/>
<rect x="355.35" y="576.95" width="195.66" height="2.3" fill="#0d0d80"/>
<path fill="none" stroke="#0d0d80" stroke-width="1.9" d="M365.65 574.2L362.15 578.1L365.65 582M379.55 574.2L376.05 578.1L379.55 582M395.01 574.2L391.51 578.1L395.01 582M404.24 574.2L400.74 578.1L404.24 582M413.47 574.2L409.97 578.1L413.47 582M422.7 574.2L419.2 578.1L422.7 582M442.84 574.2L439.34 578.1L442.84 582M452.07 574.2L448.57 578.1L452.07 582M461.3 574.2L457.8 578.1L461.3 582M470.53 574.2L467.03 578.1L470.53 582M479.76 574.2L476.26 578.1L479.76 582M488.99 574.2L485.49 578.1L488.99 582M498.22 574.2L494.72 578.1L498.22 582M507.45 574.2L503.95 578.1L507.45 582M516.68 574.2L513.18 578.1L516.68 582M525.91 574.2L522.41 578.1L525.91 582M535.14 574.2L531.64 578.1L535.14 582M544.37 574.2L540.87 578.1L544.37 582"/>
<rect x="371.04" y="569.8" width="3.92" height="16.6" fill="#0d0d80"/>
<rect x="380.73" y="569.8" width="5.08" height="16.6" fill="#0d0d80"/>
<rect x="428.5" y="569.8" width="5.31" height="16.6" fill="#0d0d80"/>
<rect x="345.66" y="573.8" width="9.69" height="8.6" fill="#0d0d80"/>
<rect x="355.35" y="569.8" width="1.6" height="16.6" fill="#0d0d80"/>
<rect x="549.72" y="569.8" width="2.2" height="16.6" fill="#0d0d80"/>
<rect x="355.35" y="595.35" width="1626.95" height="2.3" fill="#0d0d80"/>
<path fill="none" stroke="#0d0d80" stroke-width="1.9" d="M365.65 592.6L362.15 596.5L365.65 600.4M379.55 592.6L376.05 596.5L379.55 600.4M395.93 592.6L392.43 596.5L395.93 600.4M405.16 592.6L401.66 596.5L405.16 600.4M414.39 592.6L410.89 596.5L414.39 600.4M423.62 592.6L420.12 596.5L423.62 600.4M432.85 592.6L429.35 596.5L432.85 600.4M442.08 592.6L438.58 596.5L442.08 600.4M451.31 592.6L447.81 596.5L451.31 600.4M460.54 592.6L457.04 596.5L460.54 600.4M469.77 592.6L466.27 596.5L469.77 600.4M479 592.6L475.5 596.5L479 600.4M488.23 592.6L484.73 596.5L488.23 600.4M497.46 592.6L493.96 596.5L497.46 600.4M506.69 592.6L503.19 596.5L506.69 600.4M515.92 592.6L512.42 596.5L515.92 600.4M536.38 592.6L532.88 596.5L536.38 600.4M545.61 592.6L542.11 596.5L545.61 600.4M554.84 592.6L551.34 596.5L554.84 600.4M564.07 592.6L560.57 596.5L564.07 600.4M573.3 592.6L569.8 596.5L573.3 600.4M582.53 592.6L579.03 596.5L582.53 600.4M591.76 592.6L588.26 596.5L591.76 600.4M600.99 592.6L597.49 596.5L600.99 600.4M610.22 592.6L606.72 596.5L610.22 600.4M619.45 592.6L615.95 596.5L619.45 600.4M628.68 592.6L625.18 596.5L628.68 600.4M637.91 592.6L634.41 596.5L637.91 600.4M647.14 592.6L643.64 596.5L647.14 600.4M656.37 592.6L652.87 596.5L656.37 600.4M665.6 592.6L662.1 596.5L665.6 600.4M674.83 592.6L671.33 596.5L674.83 600.4M684.06 592.6L680.56 596.5L684.06 600.4M693.29 592.6L689.79 596.5L693.29 600.4M702.52 592.6L699.02 596.5L702.52 600.4M711.75 592.6L708.25 596.5L711.75 600.4M720.98 592.6L717.48 596.5L720.98 600.4M730.21 592.6L726.71 596.5L730.21 600.4M739.44 592.6L735.94 596.5L739.44 600.4M748.67 592.6L745.17 596.5L748.67 600.4M757.9 592.6L754.4 596.5L757.9 600.4M767.13 592.6L763.63 596.5L767.13 600.4M776.36 592.6L772.86 596.5L776.36 600.4M785.59 592.6L782.09 596.5L785.59 600.4M794.82 592.6L791.32 596.5L794.82 600.4M804.05 592.6L800.55 596.5L804.05 600.4M813.28 592.6L809.78 596.5L813.28 600.4M822.51 592.6L819.01 596.5L822.51 600.4M831.74 592.6L828.24 596.5L831.74 600.4M840.97 592.6L837.47 596.5L840.97 600.4M850.2 592.6L846.7 596.5L850.2 600.4M859.43 592.6L855.93 596.5L859.43 600.4M868.66 592.6L865.16 596.5L868.66 600.4M877.89 592.6L874.39 596.5L877.89 600.4M887.12 592.6L883.62 596.5L887.12 600.4M896.35 592.6L892.85 596.5L896.35 600.4M905.58 592.6L902.08 596.5L905.58 600.4M914.81 592.6L911.31 596.5L914.81 600.4M924.04 592.6L920.54 596.5L924.04 600.4M933.27 592.6L929.77 596.5L933.27 600.4M942.5 592.6L939 596.5L942.5 600.4M951.73 592.6L948.23 596.5L951.73 600.4M960.96 592.6L957.46 596.5L960.96 600.4M970.19 592.6L966.69 596.5L970.19 600.4M979.42 592.6L975.92 596.5L979.42 600.4M988.65 592.6L985.15 596.5L988.65 600.4M997.88 592.6L994.38 596.5L997.88 600.4M1007.11 592.6L1003.61 596.5L1007.11 600.4M1016.34 592.6L1012.84 596.5L1016.34 600.4M1025.57 592.6L1022.07 596.5L1025.57 600.4M1034.8 592.6L1031.3 596.5L1034.8 600.4M1044.03 592.6L1040.53 596.5L1044.03 600.4M1053.26 592.6L1049.76 596.5L1053.26 600.4M1062.49 592.6L1058.99 596.5L1062.49 600.4M1071.72 592.6L1068.22 596.5L1071.72 600.4M1080.95 592.6L1077.45 596.5L1080.95 600.4M1090.18 592.6L1086.68 596.5L1090.18 600.4M1099.41 592.6L1095.91 596.5L1099.41 600.4M1108.64 592.6L1105.14 596.5L1108.64 600.4M1117.87 592.6L1114.37 596.5L1117.87 600.4M1127.1 592.6L1123.6 596.5L1127.1 600.4M1136.33 592.6L1132.83 596.5L1136.33 600.4M1145.56 592.6L1142.06 596.5L1145.56 600.4M1154.79 592.6L1151.29 596.5L1154.79 600.4M1164.02 592.6L1160.52 596.5L1164.02 600.4M1173.25 592.6L1169.75 596.5L1173.25 600.4M1182.48 592.6L1178.98 596.5L1182.48 600.4M1191.71 592.6L1188.21 596.5L1191.71 600.4M1200.94 592.6L1197.44 596.5L1200.94 600.4M1210.17 592.6L1206.67 596.5L1210.17 600.4M1219.4 592.6L1215.9 596.5L1219.4 600.4M1228.63 592.6L1225.13 596.5L1228.63 600.4M1237.86 592.6L1234.36 596.5L1237.86 600.4M1247.09 592.6L1243.59 596.5L1247.09 600.4M1256.32 592.6L1252.82 596.5L1256.32 600.4M1265.55 592.6L1262.05 596.5L1265.55 600.4M1274.78 592.6L1271.28 596.5L1274.78 600.4M1284.01 592.6L1280.51 596.5L1284.01 600.4M1293.24 592.6L1289.74 596.5L1293.24 600.4M1302.47 592.6L1298.97 596.5L1302.47 600.4M1311.7 592.6L1308.2 596.5L1311.7 600.4M1320.93 592.6L1317.43 596.5L1320.93 600.4M1330.16 592.6L1326.66 596.5L1330.16 600.4M1339.39 592.6L1335.89 596.5L1339.39 600.4M1348.62 592.6L1345.12 596.5L1348.62 600.4M1357.85 592.6L1354.35 596.5L1357.85 600.4M1367.08 592.6L1363.58 596.5L1367.08 600.4M1376.31 592.6L1372.81 596.5L1376.31 600.4M1385.54 592.6L1382.04 596.5L1385.54 600.4M1394.77 592.6L1391.27 596.5L1394.77 600.4M1404 592.6L1400.5 596.5L1404 600.4M1413.23 592.6L1409.73 596.5L1413.23 600.4M1422.46 592.6L1418.96 596.5L1422.46 600.4M1431.69 592.6L1428.19 596.5L1431.69 600.4M1440.92 592.6L1437.42 596.5L1440.92 600.4M1450.15 592.6L1446.65 596.5L1450.15 600.4M1459.38 592.6L1455.88 596.5L1459.38 600.4M1468.61 592.6L1465.11 596.5L1468.61 600.4M1477.84 592.6L1474.34 596.5L1477.84 600.4M1487.07 592.6L1483.57 596.5L1487.07 600.4M1496.3 592.6L1492.8 596.5L1496.3 600.4M1505.53 592.6L1502.03 596.5L1505.53 600.4M1514.76 592.6L1511.26 596.5L1514.76 600.4M1523.99 592.6L1520.49 596.5L1523.99 600.4M1533.22 592.6L1529.72 596.5L1533.22 600.4M1542.45 592.6L1538.95 596.5L1542.45 600.4M1551.68 592.6L1548.18 596.5L1551.68 600.4M1560.91 592.6L1557.41 596.5L1560.91 600.4M1570.14 592.6L1566.64 596.5L1570.14 600.4M1579.37 592.6L1575.87 596.5L1579.37 600.4M1588.6 592.6L1585.1 596.5L1588.6 600.4M1597.83 592.6L1594.33 596.5L1597.83 600.4M1607.06 592.6L1603.56 596.5L1607.06 600.4M1616.29 592.6L1612.79 596.5L1616.29 600.4M1625.52 592.6L1622.02 596.5L1625.52 600.4M1634.75 592.6L1631.25 596.5L1634.75 600.4M1643.98 592.6L1640.48 596.5L1643.98 600.4M1653.21 592.6L1649.71 596.5L1653.21 600.4M1662.44 592.6L1658.94 596.5L1662.44 600.4M1671.67 592.6L1668.17 596.5L1671.67 600.4M1680.9 592.6L1677.4 596.5L1680.9 600.4M1690.13 592.6L1686.63 596.5L1690.13 600.4M1699.36 592.6L1695.86 596.5L1699.36 600.4M1708.59 592.6L1705.09 596.5L1708.59 600.4M1717.82 592.6L1714.32 596.5L1717.82 600.4M1727.05 592.6L1723.55 596.5L1727.05 600.4M1736.28 592.6L1732.78 596.5L1736.28 600.4M1745.51 592.6L1742.01 596.5L1745.51 600.4M1754.74 592.6L1751.24 596.5L1754.74 600.4M1763.97 592.6L1760.47 596.5L1763.97 600.4M1773.2 592.6L1769.7 596.5L1773.2 600.4M1782.43 592.6L1778.93 596.5L1782.43 600.4M1791.66 592.6L1788.16 596.5L1791.66 600.4M1800.89 592.6L1797.39 596.5L1800.89 600.4M1810.12 592.6L1806.62 596.5L1810.12 600.4M1819.35 592.6L1815.85 596.5L1819.35 600.4M1828.58 592.6L1825.08 596.5L1828.58 600.4M1837.81 592.6L1834.31 596.5L1837.81 600.4M1847.04 592.6L1843.54 596.5L1847.04 600.4M1856.27 592.6L1852.77 596.5L1856.27 600.4M1865.5 592.6L1862 596.5L1865.5 600.4M1874.73 592.6L1871.23 596.5L1874.73 600.4M1883.96 592.6L1880.46 596.5L1883.96 600.4M1893.19 592.6L1889.69 596.5L1893.19 600.4M1902.42 592.6L1898.92 596.5L1902.42 600.4M1911.65 592.6L1908.15 596.5L1911.65 600.4M1920.88 592.6L1917.38 596.5L1920.88 600.4M1930.11 592.6L1926.61 596.5L1930.11 600.4M1939.34 592.6L1935.84 596.5L1939.34 600.4M1948.57 592.6L1945.07 596.5L1948.57 600.4M1957.8 592.6L1954.3 596.5L1957.8 600.4M1967.03 592.6L1963.53 596.5L1967.03 600.4M1976.26 592.6L1972.76 596.5L1976.26 600.4"/>
<rect x="371.04" y="588.2" width="3.92" height="16.6" fill="#0d0d80"/>
<rect x="380.73" y="588.2" width="5.08" height="16.6" fill="#0d0d80"/>
<rect x="522.63" y="588.2" width="5.31" height="16.6" fill="#0d0d80"/>
<rect x="345.66" y="592.2" width="9.69" height="8.6" fill="#0d0d80"/>
<rect x="355.35" y="588.2" width="1.6" height="16.6" fill="#0d0d80"/>
<rect x="1981" y="588.2" width="2.2" height="16.6" fill="#0d0d80"/>
<rect x="372.66" y="613.35" width="178.36" height="2.3" fill="#0d0d80"/>
<path fill="none" stroke="#0d0d80" stroke-width="1.9" d="M379.55 610.6L376.05 614.5L379.55 618.4M395.01 610.6L391.51 614.5L395.01 618.4M404.24 610.6L400.74 614.5L404.24 618.4M413.47 610.6L409.97 614.5L413.47 618.4M422.7 610.6L419.2 614.5L422.7 618.4M443 610.6L439.5 614.5L443 618.4M452.23 610.6L448.73 614.5L452.23 618.4M461.46 610.6L457.96 614.5L461.46 618.4M470.69 610.6L467.19 614.5L470.69 618.4M479.92 610.6L476.42 614.5L479.92 618.4M489.15 610.6L485.65 614.5L489.15 618.4M498.38 610.6L494.88 614.5L498.38 618.4M507.61 610.6L504.11 614.5L507.61 618.4M516.84 610.6L513.34 614.5L516.84 618.4M536.06 610.6L532.56 614.5L536.06 618.4M545.29 610.6L541.79 614.5L545.29 618.4"/>
<rect x="369.66" y="606.2" width="5.31" height="16.6" fill="#0d0d80"/>
<rect x="380.73" y="606.2" width="5.08" height="16.6" fill="#0d0d80"/>
<rect x="428.5" y="606.2" width="5.31" height="16.6" fill="#0d0d80"/>
<rect x="522.63" y="606.2" width="5.31" height="16.6" fill="#0d0d80"/>
<rect x="549.72" y="606.2" width="2.2" height="16.6" fill="#0d0d80"/>
<text x="263" y="593.5" font-size="26" fill="#0d0d80" textLength="68" lengthAdjust="spacingAndGlyphs" font-style="italic">PSG8</text>
<rect x="1445.34" y="562.9" width="78.45" height="1.8" fill="#0b6b0b"/>
<rect x="1459.18" y="559.2" width="16.15" height="9.2" fill="#0b6b0b"/>
<rect x="1493.79" y="559.2" width="5.77" height="9.2" fill="#0b6b0b"/>
<rect x="1516.17" y="559.2" width="7.61" height="9.2" fill="#0b6b0b"/>
<path fill="none" stroke="#0b6b0b" stroke-width="1.3" d="M1445.11 559.6L1449.49 563.8L1445.11 568Z"/>
<path fill="none" stroke="#0b6b0b" stroke-width="1.3" d="M1484.73 560.5L1487.33 563.8L1484.73 567.1M1503.19 560.5L1505.79 563.8L1503.19 567.1M1511.96 560.5L1514.56 563.8L1511.96 567.1"/>
<text x="1308" y="575" font-size="26" fill="#0b6b0b" textLength="122" lengthAdjust="spacingAndGlyphs" font-style="italic">PSG8-AS1</text>
<rect x="148.6" y="101.5" width="5.1" height="614.5" fill="#000"/>
<text x="137.6" y="173.6" font-size="26" text-anchor="end" fill="#8b5ba5" textLength="106.7" lengthAdjust="spacingAndGlyphs">RNA-seq</text>
<text x="137.6" y="233.3" font-size="26" text-anchor="end" fill="#3a9ccb" textLength="110.5" lengthAdjust="spacingAndGlyphs">H3K27ac</text>
<text x="137.6" y="292.3" font-size="26" text-anchor="end" fill="#b78bbd" textLength="118.5" lengthAdjust="spacingAndGlyphs">H3K4me1</text>
<text x="137.6" y="350.9" font-size="26" text-anchor="end" fill="#e8913f" textLength="123.4" lengthAdjust="spacingAndGlyphs">H3K4me3</text>
<text x="137.6" y="409.8" font-size="26" text-anchor="end" fill="#5b7a93" textLength="124" lengthAdjust="spacingAndGlyphs">H3K9me3</text>
<text x="137.6" y="468.3" font-size="26" text-anchor="end" fill="#5ba5af" textLength="136" lengthAdjust="spacingAndGlyphs">H3K27me3</text>
<text x="137.6" y="527" font-size="26" text-anchor="end" fill="#3c6e88" textLength="78" lengthAdjust="spacingAndGlyphs">WGBS</text>
<text x="137.6" y="582.2" font-size="26" text-anchor="end" textLength="130.4" lengthAdjust="spacingAndGlyphs">GENCODE</text>
<text x="137.6" y="609.9" font-size="26" text-anchor="end" textLength="44" lengthAdjust="spacingAndGlyphs">V41</text>
<text x="137.6" y="654" font-size="26" text-anchor="end" textLength="59" lengthAdjust="spacingAndGlyphs">SINE</text>
<text x="137.6" y="681.7" font-size="26" text-anchor="end" textLength="55.5" lengthAdjust="spacingAndGlyphs">LINE</text>
<text x="137.6" y="709.4" font-size="26" text-anchor="end" textLength="43" lengthAdjust="spacingAndGlyphs">LTR</text>
</g>
<g id="panel-b">
<rect x="146.8" y="874" width="1.2" height="628.2" fill="#111"/>
<rect x="137.5" y="1501" width="1099" height="1.2" fill="#333"/>
<text x="125.8" y="1508.85" font-size="24.4" text-anchor="end" textLength="13.6" lengthAdjust="spacingAndGlyphs">0</text>
<rect x="137.5" y="1437.3" width="9.5" height="1.2" fill="#333"/>
<text x="125.8" y="1447.47" font-size="24.4" text-anchor="end" textLength="32" lengthAdjust="spacingAndGlyphs">0.5</text>
<rect x="137.5" y="1376.3" width="9.5" height="1.2" fill="#333"/>
<text x="125.8" y="1386.1" font-size="24.4" text-anchor="end" textLength="28.6" lengthAdjust="spacingAndGlyphs">1.0</text>
<rect x="137.5" y="1315.3" width="9.5" height="1.2" fill="#333"/>
<text x="125.8" y="1324.72" font-size="24.4" text-anchor="end" textLength="27.6" lengthAdjust="spacingAndGlyphs">1.5</text>
<rect x="137.5" y="1254.3" width="9.5" height="1.2" fill="#333"/>
<text x="125.8" y="1263.35" font-size="24.4" text-anchor="end" textLength="32" lengthAdjust="spacingAndGlyphs">2.0</text>
<rect x="137.5" y="1193.3" width="9.5" height="1.2" fill="#333"/>
<text x="125.8" y="1201.97" font-size="24.4" text-anchor="end" textLength="31" lengthAdjust="spacingAndGlyphs">2.5</text>
<rect x="137.5" y="1132.3" width="9.5" height="1.2" fill="#333"/>
<text x="125.8" y="1140.6" font-size="24.4" text-anchor="end" textLength="32" lengthAdjust="spacingAndGlyphs">3.0</text>
<rect x="137.5" y="1071.3" width="9.5" height="1.2" fill="#333"/>
<text x="125.8" y="1079.22" font-size="24.4" text-anchor="end" textLength="31.3" lengthAdjust="spacingAndGlyphs">3.5</text>
<rect x="137.5" y="1010.3" width="9.5" height="1.2" fill="#333"/>
<text x="125.8" y="1017.85" font-size="24.4" text-anchor="end" textLength="33" lengthAdjust="spacingAndGlyphs">4.0</text>
<rect x="137.5" y="949.3" width="9.5" height="1.2" fill="#333"/>
<text x="125.8" y="956.48" font-size="24.4" text-anchor="end" textLength="31.6" lengthAdjust="spacingAndGlyphs">4.5</text>
<rect x="137.5" y="888.3" width="9.5" height="1.2" fill="#333"/>
<text x="125.8" y="895.1" font-size="24.4" text-anchor="end" textLength="31.6" lengthAdjust="spacingAndGlyphs">5.0</text>
<text x="69" y="1188.5" font-size="27" text-anchor="middle" textLength="442" lengthAdjust="spacingAndGlyphs" transform="rotate(-90 69 1188.5)">Firefly/renilla luciferase signal ratio</text>
<rect x="206.4" y="1377.4" width="54.8" height="123.6" fill="#808080" stroke="#000" stroke-width="2"/>
<circle cx="233.5" cy="1359.4" r="7.3" fill="#3f3f3f"/>
<circle cx="233.5" cy="1374.4" r="7.3" fill="#3f3f3f"/>
<circle cx="233.5" cy="1398.5" r="7.3" fill="#3f3f3f"/>
<text x="245.8" y="1531" font-size="26" text-anchor="end" textLength="154" lengthAdjust="spacingAndGlyphs" transform="rotate(-45 245.8 1531)">Background</text>
<rect x="367.5" y="1021.5" width="54.8" height="479.5" fill="#808080" stroke="#000" stroke-width="2"/>
<rect x="393" y="925.5" width="3.2" height="96.5" fill="#555"/>
<rect x="389.1" y="924.3" width="11" height="2.8" fill="#555"/>
<rect x="389.1" y="1020.2" width="11" height="2.6" fill="#555"/>
<circle cx="394.6" cy="911.4" r="7.3" fill="#3f3f3f"/>
<circle cx="394.6" cy="1065.8" r="7.3" fill="#3f3f3f"/>
<circle cx="394.6" cy="1086.8" r="7.3" fill="#3f3f3f"/>
<text x="412.4" y="1526" font-size="26" text-anchor="end" textLength="154" lengthAdjust="spacingAndGlyphs" transform="rotate(-45 412.4 1526)">LTR8B-PSG1</text>
<rect x="528.4" y="1085.4" width="54.8" height="415.6" fill="#808080" stroke="#000" stroke-width="2"/>
<rect x="553.9" y="962.4" width="3.2" height="123.5" fill="#555"/>
<rect x="550" y="961.2" width="11" height="2.8" fill="#555"/>
<rect x="550" y="1084.1" width="11" height="2.6" fill="#555"/>
<circle cx="555.5" cy="1001.3" r="7.3" fill="#3f3f3f"/>
<circle cx="555.5" cy="1028" r="7.3" fill="#3f3f3f"/>
<circle cx="555.5" cy="1225.4" r="7.3" fill="#3f3f3f"/>
<text x="567.8" y="1530" font-size="26" text-anchor="end" textLength="159" lengthAdjust="spacingAndGlyphs" transform="rotate(-45 567.8 1530)">LTR8B-PSG4</text>
<rect x="680.2" y="1008.8" width="54.8" height="492.2" fill="#808080" stroke="#000" stroke-width="2"/>
<rect x="705.7" y="969" width="3.2" height="40.3" fill="#555"/>
<rect x="701.8" y="967.8" width="11" height="2.8" fill="#555"/>
<rect x="701.8" y="1007.5" width="11" height="2.6" fill="#555"/>
<circle cx="707.3" cy="983.5" r="7.3" fill="#3f3f3f"/>
<circle cx="707.3" cy="987.5" r="7.3" fill="#3f3f3f"/>
<circle cx="707.3" cy="1053" r="7.3" fill="#3f3f3f"/>
<text x="723.2" y="1529.5" font-size="26" text-anchor="end" textLength="159" lengthAdjust="spacingAndGlyphs" transform="rotate(-45 723.2 1529.5)">LTR8B-PSG5</text>
<rect x="836.9" y="1429.5" width="54.8" height="71.5" fill="#808080" stroke="#000" stroke-width="2"/>
<circle cx="864" cy="1419.5" r="7.3" fill="#3f3f3f"/>
<circle cx="864" cy="1429" r="7.3" fill="#3f3f3f"/>
<circle cx="864" cy="1439" r="7.3" fill="#3f3f3f"/>
<text x="880.3" y="1530" font-size="26" text-anchor="end" textLength="159" lengthAdjust="spacingAndGlyphs" transform="rotate(-45 880.3 1530)">LTR8B-PSG6</text>
<rect x="993.4" y="1166" width="54.8" height="335" fill="#808080" stroke="#000" stroke-width="2"/>
<rect x="1018.9" y="1110" width="3.2" height="56.5" fill="#555"/>
<rect x="1015" y="1108.8" width="11" height="2.8" fill="#555"/>
<rect x="1015" y="1164.7" width="11" height="2.6" fill="#555"/>
<circle cx="1020.5" cy="1102" r="7.3" fill="#3f3f3f"/>
<circle cx="1020.5" cy="1192" r="7.3" fill="#3f3f3f"/>
<circle cx="1020.5" cy="1202.4" r="7.3" fill="#3f3f3f"/>
<text x="1038.8" y="1530" font-size="26" text-anchor="end" textLength="159" lengthAdjust="spacingAndGlyphs" transform="rotate(-45 1038.8 1530)">LTR8B-PSG7</text>
<rect x="1145.2" y="1327" width="54.8" height="174" fill="#808080" stroke="#000" stroke-width="2"/>
<rect x="1170.7" y="1297.5" width="3.2" height="30" fill="#555"/>
<rect x="1166.8" y="1296.3" width="11" height="2.8" fill="#555"/>
<rect x="1166.8" y="1325.7" width="11" height="2.6" fill="#555"/>
<circle cx="1172.3" cy="1305.5" r="7.3" fill="#3f3f3f"/>
<circle cx="1172.3" cy="1315" r="7.3" fill="#3f3f3f"/>
<circle cx="1172.3" cy="1358.9" r="7.3" fill="#3f3f3f"/>
<text x="1183.1" y="1531" font-size="26" text-anchor="end" textLength="159" lengthAdjust="spacingAndGlyphs" transform="rotate(-45 1183.1 1531)">LTR8B-PSG8</text>
</g>
<g id="panel-c">
<text x="1413.5" y="812.8" font-size="27" textLength="389" lengthAdjust="spacingAndGlyphs">Chr. 19: 42,859,821–42,884,822</text>
<path fill="#ff5a46" d="M1439.78 852.28L1439.78 850.71L1444.67 849.24L1456.9 849.24L1466.69 850.46L1472.8 848.5L1478.92 850.22L1488.7 849.97L1497.26 848.5L1505.82 850.46L1513.16 847.04L1519.27 849.48L1530.28 849.48L1535.17 843.12L1539.33 840.43L1544.95 845.08L1549.84 846.3L1555.96 848.5L1564.52 844.59L1576.75 846.3L1591.42 849.97L1601.2 848.75L1610.99 846.3L1619.55 847.77L1625.66 844.59L1633 848.75L1642.78 847.53L1652.57 847.77L1657.46 849.24L1664.79 846.79L1674.58 846.3L1683.14 845.33L1689.25 849.24L1699.04 846.3L1705.15 846.3L1708.82 848.75L1713.71 846.3L1718.6 849.24L1723.49 846.3L1732.05 846.3L1737.68 848.75L1743.06 845.08L1747.95 832.85L1754.07 828.69L1760.67 827.47L1763.85 835.3L1767.03 845.08L1777.3 845.81L1789.53 847.53L1796.87 847.04L1802.98 849.73L1810.32 845.08L1816.43 843.86L1821.32 845.81L1827.44 849.24L1833.55 845.08L1838.44 837.74L1842.11 835.3L1845.78 838.97L1849.45 846.3L1855.57 847.04L1859.23 849.24L1866.57 848.75L1872.69 843.86L1878.07 840.43L1881.25 843.86L1885.4 849.97L1894.7 849.97L1898.37 848.5L1903.26 850.22L1919.16 849.97L1924.05 849.24L1931.38 850.22L1938.72 849.97L1944.84 847.77L1951.44 848.75L1951.44 852.28Z"/>
<rect x="1438.5" y="851.68" width="512.9" height="1.2" fill="#1a1a1a"/>
<text x="1960.2" y="850.98" font-size="26" fill="#e2523f" textLength="85.3" lengthAdjust="spacingAndGlyphs">ST Ctrl</text>
<path fill="#ff5a46" d="M1439.78 878.21L1439.78 876.14L1461.8 875.65L1467.18 873.21L1472.8 875.65L1482.58 875.65L1492.37 873.21L1500.93 874.19L1508.26 875.65L1514.38 873.45L1527.83 874.43L1533.95 871.74L1540.06 872.72L1543.73 873.7L1547.4 867.83L1551.07 867.83L1555.96 873.21L1559.63 873.7L1569.41 868.56L1573.08 870.76L1577.97 875.16L1584.08 870.76L1591.42 872.72L1606.1 875.65L1612.21 872.72L1617.1 871.5L1620.77 872.72L1625.66 869.05L1631.78 867.34L1636.67 873.7L1641.56 873.21L1646.45 875.65L1657.46 875.65L1666.02 871.98L1674.58 872.23L1683.14 870.76L1691.7 873.7L1697.81 869.54L1703.93 871.25L1710.04 875.65L1719.82 875.65L1727.16 873.7L1734.5 870.76L1737.68 871.98L1743.06 869.54L1746.73 861.47L1750.4 860.49L1755.29 866.36L1762.63 870.27L1769.96 869.54L1776.08 872.23L1780.24 869.54L1785.86 873.7L1796.87 873.21L1809.1 873.7L1816.43 870.76L1823.77 874.43L1831.11 869.05L1836 868.32L1839.67 852.42L1843.83 852.42L1848.23 865.87L1860.46 873.7L1865.35 873.21L1869.02 863.91L1872.69 862.69L1878.07 865.87L1884.91 872.72L1891.03 874.43L1894.7 873.21L1899.59 875.16L1908.15 874.43L1914.26 875.65L1928.94 875.16L1938.72 871.98L1946.06 873.21L1951.44 872.72L1951.44 878.21Z"/>
<rect x="1438.5" y="877.61" width="512.9" height="1.2" fill="#1a1a1a"/>
<text x="1960.2" y="876.91" font-size="26" fill="#e2523f" textLength="88" lengthAdjust="spacingAndGlyphs">ST Cov</text>
<path fill="#00b9d9" d="M1450.06 903.89L1450.06 902.56L1456.9 900.11L1469.13 900.84L1481.36 899.13L1488.7 899.13L1498.48 900.84L1510.71 901.33L1532.72 901.33L1548.62 899.13L1557.18 901.33L1564.52 900.11L1576.75 901.33L1585.31 899.13L1592.64 901.33L1613.43 900.11L1620.77 900.84L1637.89 900.11L1650.12 900.84L1664.79 900.11L1674.58 900.84L1689.25 899.13L1697.81 899.13L1703.44 897.42L1708.82 900.84L1723.49 901.33L1729.61 900.11L1737.68 900.84L1744.28 898.89L1750.4 892.77L1754.55 888.62L1758.96 892.77L1763.85 898.15L1768.74 901.33L1774.85 899.13L1780.24 897.42L1785.86 900.11L1790.75 899.13L1795.64 897.42L1801.76 900.11L1816.43 900.6L1831.11 901.33L1842.11 899.13L1848.23 901.33L1862.9 900.84L1870.24 897.66L1878.8 897.66L1887.36 900.84L1904.48 901.33L1913.04 900.11L1921.6 901.33L1928.94 900.11L1938.72 901.33L1951.44 899.62L1951.44 903.89Z"/>
<rect x="1438.5" y="903.29" width="512.9" height="1.2" fill="#1a1a1a"/>
<text x="1960.2" y="902.59" font-size="26" fill="#00a9c9" textLength="105.4" lengthAdjust="spacingAndGlyphs">VCT Ctrl</text>
<path fill="#00b9d9" d="M1450.79 929.33L1450.79 927.75L1456.9 925.79L1466.69 927.01L1482.58 925.79L1487.48 926.53L1493.59 924.57L1499.7 927.5L1532.72 927.01L1539.33 924.57L1546.17 927.01L1554.73 925.79L1562.07 927.5L1574.3 927.01L1580.42 924.57L1586.53 927.5L1635.45 927.01L1641.56 925.79L1647.67 926.53L1655.01 925.55L1664.79 927.01L1684.36 927.01L1689.25 924.57L1694.14 924.57L1706.37 927.01L1718.6 927.01L1723.49 925.55L1728.38 926.53L1734.5 924.57L1737.68 925.06L1744.28 924.57L1750.4 920.17L1755.29 917.23L1761.4 918.45L1766.29 923.35L1771.19 924.57L1774.85 925.79L1780.24 922.61L1787.08 926.04L1799.31 926.53L1806.65 923.59L1815.21 926.53L1821.32 927.01L1831.11 923.59L1836.49 921.63L1842.11 925.3L1847.01 923.59L1855.57 926.53L1862.9 923.59L1870.24 925.06L1878.07 923.59L1886.14 925.3L1892.25 927.5L1916.71 927.5L1924.05 925.79L1931.38 927.5L1939.21 923.59L1946.06 926.04L1951.44 927.01L1951.44 929.33Z"/>
<rect x="1438.5" y="928.73" width="512.9" height="1.2" fill="#1a1a1a"/>
<text x="1960.2" y="928.03" font-size="26" fill="#00a9c9" textLength="108.2" lengthAdjust="spacingAndGlyphs">VCT Cov</text>
<path fill="#c66500" d="M1444.67 955.01L1444.67 953.43L1452.01 950.25L1458.13 952.69L1466.69 951.47L1475.25 952.69L1500.93 952.69L1508.26 951.47L1518.05 951.47L1524.16 950.25L1530.28 952.69L1539.33 949.52L1546.17 952.69L1554.73 949.52L1562.07 951.47L1569.41 950.49L1576.75 951.47L1581.64 950.74L1596.31 952.21L1601.2 951.47L1620.77 952.69L1625.66 950.74L1637.89 952.21L1646.45 950.74L1655.01 952.69L1662.35 950.74L1672.13 952.21L1678.25 949.52L1684.36 950.98L1692.92 950.74L1696.59 952.21L1703.44 948.29L1710.04 952.69L1718.6 950.74L1733.28 952.69L1737.68 952.69L1743.06 946.58L1746.73 930.68L1751.62 929.46L1755.29 939.24L1760.18 938.02L1763.85 942.91L1768.74 951.47L1772.41 948.29L1780.24 945.36L1785.86 947.31L1791.98 952.21L1799.31 950.49L1816.43 950.49L1823.77 951.47L1836 949.03L1842.11 943.65L1845.78 946.58L1851.9 952.21L1856.79 952.21L1862.9 947.31L1870.24 948.29L1878.07 945.6L1883.69 945.6L1889.81 952.69L1902.04 951.47L1911.82 952.69L1933.83 952.69L1941.17 950.49L1951.44 952.21L1951.44 955.01Z"/>
<rect x="1438.5" y="954.41" width="512.9" height="1.2" fill="#1a1a1a"/>
<text x="1960.2" y="953.71" font-size="26" fill="#b85f24" textLength="101.2" lengthAdjust="spacingAndGlyphs">EVT Ctrl</text>
<path fill="#c66500" d="M1455.19 980.69L1455.19 979.6L1463.02 975.44L1469.13 978.38L1503.37 978.38L1508.26 975.44L1514.38 978.38L1524.16 978.38L1529.05 975.44L1535.17 977.89L1539.33 975.93L1546.17 978.38L1558.4 978.38L1564.52 973.48L1570.63 977.15L1576.75 975.93L1585.31 973.48L1591.42 977.15L1596.31 975.44L1599.98 977.15L1606.1 975.44L1612.21 975.93L1617.1 977.89L1625.66 975.93L1633 978.38L1641.56 975.93L1647.67 978.38L1666.02 978.38L1672.13 973.48L1678.25 977.15L1683.14 975.93L1689.25 978.38L1694.14 977.15L1703.44 969.33L1710.04 977.89L1718.6 978.38L1723.49 975.93L1728.38 977.15L1734.5 975.44L1737.68 975.93L1743.06 973.48L1747.22 957.59L1756.51 957.59L1761.4 972.26L1766.29 975.93L1774.85 973.48L1780.24 975.93L1789.53 975.44L1795.64 973.48L1801.76 977.89L1810.32 975.93L1816.43 977.89L1821.32 977.89L1831.11 975.44L1836.49 969.57L1853.12 975.44L1866.57 975.44L1876.35 960.03L1879.53 960.03L1884.91 975.44L1899.59 975.44L1904.48 977.89L1938.72 977.89L1944.84 971.53L1951.44 977.15L1951.44 980.69Z"/>
<rect x="1438.5" y="980.09" width="512.9" height="1.2" fill="#1a1a1a"/>
<text x="1960.2" y="979.39" font-size="26" fill="#b85f24" textLength="104" lengthAdjust="spacingAndGlyphs">EVT Cov</text>
<path fill="#dcb93c" d="M1522.45 1006.37L1522.45 1004.79L1527.83 1002.34L1540.06 1004.06L1549.84 1003.32L1554.73 1001.12L1560.85 1003.57L1569.41 1001.12L1576.75 1001.86L1586.53 1003.57L1601.2 1004.06L1610.99 1001.86L1617.1 1001.12L1621.99 1003.57L1633 1004.06L1641.56 1002.34L1650.12 1004.06L1661.13 1002.34L1669.69 1004.06L1699.04 1004.06L1708.33 1001.12L1714.93 1003.57L1723.49 1004.06L1733.28 1002.34L1747.95 1003.57L1769.96 1002.34L1777.3 1004.06L1789.53 1004.06L1795.64 1002.34L1801.76 1004.06L1826.22 1004.06L1836.49 1001.12L1845.78 1002.83L1853.12 1004.06L1865.35 1004.06L1872.69 1002.34L1877.58 1003.32L1883.69 1001.12L1890.54 1005.28L1890.54 1006.37Z"/>
<rect x="1438.5" y="1005.77" width="512.9" height="1.2" fill="#1a1a1a"/>
<text x="1960.2" y="1005.07" font-size="26" fill="#d2b234" textLength="89.3" lengthAdjust="spacingAndGlyphs">HB Ctrl</text>
<path fill="#dcb93c" d="M1460.57 1031.56L1460.57 1030.23L1467.91 1027.78L1475.25 1029.25L1486.25 1029.25L1493.1 1027.78L1497.26 1029L1503.37 1026.56L1510.71 1029.25L1522.94 1029.25L1529.05 1027.78L1535.17 1029L1540.06 1027.78L1547.4 1029.25L1564.52 1029.25L1570.63 1027.78L1579.19 1027.78L1586.53 1029.25L1655.01 1029.25L1662.35 1027.78L1669.69 1029.25L1678.25 1027.78L1684.36 1029.25L1711.26 1029.25L1718.6 1026.8L1733.28 1028.51L1747.95 1029.25L1755.29 1027.78L1760.18 1029.25L1774.85 1029.25L1780.24 1027.78L1787.08 1029.25L1821.32 1029.25L1831.11 1027.78L1840.89 1028.51L1847.01 1026.8L1858.01 1029.25L1909.37 1029.25L1919.16 1027.78L1926.49 1030.23L1926.49 1031.56Z"/>
<rect x="1438.5" y="1030.96" width="512.9" height="1.2" fill="#1a1a1a"/>
<text x="1960.2" y="1030.26" font-size="26" fill="#d2b234" textLength="92" lengthAdjust="spacingAndGlyphs">HB Cov</text>
<path fill="#a9c389" d="M1496.53 1057.24L1496.53 1055.91L1503.37 1053.46L1510.71 1054.93L1532.72 1054.93L1539.33 1053.46L1544.95 1054.93L1588.98 1054.93L1595.82 1053.46L1601.2 1054.93L1625.66 1054.93L1631.78 1053.46L1637.89 1054.93L1650.12 1054.93L1657.46 1053.46L1662.35 1054.68L1667.24 1053.46L1674.58 1054.93L1767.52 1054.93L1772.41 1053.71L1777.3 1054.93L1789.53 1054.93L1795.64 1053.46L1800.54 1054.68L1806.65 1053.46L1812.76 1054.93L1860.46 1054.93L1870.24 1053.46L1877.58 1054.68L1887.36 1053.46L1894.7 1054.93L1921.6 1054.93L1928.94 1053.46L1936.28 1054.68L1944.84 1053.46L1951.44 1054.68L1951.44 1057.24Z"/>
<rect x="1438.5" y="1056.64" width="512.9" height="1.2" fill="#1a1a1a"/>
<text x="1960.2" y="1055.94" font-size="26" fill="#9bb983" textLength="100" lengthAdjust="spacingAndGlyphs">NK1 Ctrl</text>
<path fill="#a9c389" d="M1548.13 1082.53L1548.13 1081.2L1554.73 1078.75L1562.07 1080.22L1620.77 1080.22L1626.89 1078.75L1633 1080.22L1641.56 1080.22L1647.67 1078.75L1653.79 1080.22L1718.6 1080.22L1724.72 1078.75L1730.83 1080.22L1747.95 1080.22L1754.55 1077.77L1760.18 1079.73L1766.29 1078.75L1772.41 1080.22L1780.24 1078.75L1785.86 1080.22L1816.43 1080.22L1821.32 1078.75L1826.22 1079.73L1831.11 1078.75L1837.22 1079.73L1843.34 1078.75L1850.67 1079.24L1856.79 1077.77L1862.9 1080.22L1877.58 1080.22L1883.69 1078.75L1889.81 1080.22L1898.37 1077.77L1904.48 1080.22L1913.04 1080.22L1919.16 1078.75L1926 1081.2L1926 1082.53Z"/>
<rect x="1438.5" y="1081.93" width="512.9" height="1.2" fill="#1a1a1a"/>
<text x="1960.2" y="1081.23" font-size="26" fill="#9bb983" textLength="102.7" lengthAdjust="spacingAndGlyphs">NK1 Cov</text>
<path fill="#00a272" d="M1507.04 1108.21L1507.04 1106.88L1513.89 1103.45L1519.27 1105.65L1617.1 1105.65L1621.99 1103.45L1626.89 1105.65L1667.24 1105.65L1672.62 1103.45L1678.25 1105.65L1737.68 1105.65L1741.84 1103.7L1749.17 1103.45L1755.29 1105.65L1816.43 1105.65L1821.32 1103.45L1827.44 1105.65L1847.01 1105.65L1851.9 1103.45L1867.79 1103.45L1872.69 1105.16L1878.07 1103.45L1882.47 1105.16L1888.58 1103.45L1894.7 1105.65L1938.72 1105.65L1944.84 1103.45L1951.44 1106.14L1951.44 1108.21Z"/>
<rect x="1438.5" y="1107.61" width="512.9" height="1.2" fill="#1a1a1a"/>
<text x="1960.2" y="1106.91" font-size="26" fill="#009a6c" textLength="151.8" lengthAdjust="spacingAndGlyphs">V.Endo1 Ctrl</text>
<path fill="#00a272" d="M1532.23 1133.89L1532.23 1132.56L1539.33 1127.18L1546.17 1131.33L1574.3 1131.33L1580.42 1129.13L1586.53 1131.33L1604.87 1131.33L1610.99 1129.13L1617.1 1131.33L1620.77 1131.33L1626.89 1129.13L1633 1131.33L1697.81 1131.33L1703.44 1129.13L1710.04 1131.33L1728.38 1131.33L1734.5 1129.13L1737.68 1131.33L1758.96 1131.33L1765.07 1129.13L1769.96 1131.33L1831.11 1131.33L1836.49 1129.13L1848.23 1129.13L1853.12 1131.33L1862.9 1131.33L1867.79 1129.13L1872.69 1130.84L1878.07 1127.18L1884.91 1129.62L1888.58 1130.84L1893.47 1129.13L1898.37 1130.84L1903.99 1129.13L1910.6 1131.33L1928.94 1131.33L1934.32 1129.13L1939.94 1131.33L1941.9 1133.29L1941.9 1133.89Z"/>
<rect x="1438.5" y="1133.29" width="512.9" height="1.2" fill="#1a1a1a"/>
<text x="1960.2" y="1132.59" font-size="26" fill="#009a6c" textLength="154.5" lengthAdjust="spacingAndGlyphs">V.Endo1 Cov</text>
<path fill="#7a2559" d="M1465.95 1159.33L1465.95 1157.99L1472.8 1155.55L1478.92 1157.01L1530.28 1157.01L1536.39 1155.3L1542.51 1156.53L1547.4 1157.01L1569.41 1157.01L1575.52 1155.55L1581.64 1157.01L1620.77 1157.01L1626.89 1155.55L1633 1157.01L1657.46 1157.01L1664.79 1155.3L1670.91 1156.53L1674.58 1157.01L1699.04 1157.01L1705.15 1155.3L1711.26 1156.53L1718.6 1155.55L1723.49 1156.53L1729.61 1155.55L1735.72 1157.01L1755.29 1157.01L1761.4 1155.3L1768.74 1157.01L1836 1156.53L1842.11 1153.35L1847.01 1156.53L1851.9 1155.55L1858.01 1157.01L1887.36 1157.01L1893.47 1155.3L1900.81 1158.24L1900.81 1159.33Z"/>
<rect x="1438.5" y="1158.73" width="512.9" height="1.2" fill="#1a1a1a"/>
<text x="1960.2" y="1158.03" font-size="26" fill="#7a2559" textLength="155.8" lengthAdjust="spacingAndGlyphs">V.Endo2 Ctrl</text>
<path fill="#7a2559" d="M1450.06 1185.01L1450.06 1183.43L1456.9 1181.47L1463.02 1182.45L1467.91 1181.47L1474.02 1182.69L1493.59 1182.69L1498.48 1181.47L1503.37 1182.45L1508.26 1181.47L1514.38 1182.69L1537.61 1182.69L1543.73 1181.47L1549.84 1182.69L1574.3 1182.69L1580.42 1181.47L1586.53 1182.69L1620.77 1182.69L1629.33 1181.47L1637.89 1182.69L1662.35 1182.69L1669.69 1181.47L1677.02 1182.69L1697.81 1182.69L1703.44 1181.47L1708.82 1182.45L1713.71 1181.47L1719.82 1182.69L1728.38 1182.69L1734.5 1180.49L1737.68 1182.69L1743.06 1182.69L1749.17 1181.47L1755.29 1182.69L1760.18 1182.69L1765.07 1181.47L1769.96 1182.69L1774.85 1182.69L1780.24 1181.47L1785.86 1182.45L1790.75 1180.49L1796.87 1182.69L1840.89 1182.69L1847.01 1180.49L1853.12 1182.69L1861.68 1182.69L1867.79 1181.47L1873.91 1182.69L1928.94 1182.69L1934.32 1180.49L1939.94 1182.45L1941.9 1184.41L1941.9 1185.01Z"/>
<rect x="1438.5" y="1184.41" width="512.9" height="1.2" fill="#1a1a1a"/>
<text x="1960.2" y="1183.71" font-size="26" fill="#7a2559" textLength="158.6" lengthAdjust="spacingAndGlyphs">V.Endo2 Cov</text>
<path fill="#f5aad6" d="M1491.14 1210.69L1491.14 1209.35L1498.48 1207.15L1504.6 1208.38L1544.95 1208.38L1549.84 1207.15L1554.73 1208.38L1571.86 1208.38L1577.97 1206.66L1584.08 1207.89L1586.53 1208.38L1610.99 1208.38L1617.1 1207.15L1623.22 1208.38L1657.46 1208.38L1662.35 1207.15L1668.46 1208.38L1674.58 1207.89L1680.69 1206.66L1686.81 1207.89L1692.92 1207.15L1699.04 1208.38L1735.72 1208.38L1740.61 1206.66L1745.51 1208.38L1754.07 1208.38L1759.69 1205.44L1765.07 1207.89L1772.41 1207.15L1780.24 1207.89L1789.53 1208.38L1795.64 1205.93L1801.76 1208.38L1806.65 1208.38L1811.54 1207.4L1816.43 1208.38L1831.11 1208.38L1836.49 1207.4L1843.34 1208.38L1858.01 1208.38L1862.9 1207.4L1867.79 1208.38L1878.07 1208.38L1883.69 1207.15L1888.58 1208.38L1893.47 1208.38L1898.37 1207.15L1904.48 1208.38L1933.83 1208.38L1939.94 1205.44L1946.06 1208.38L1948.02 1210.09L1948.02 1210.69Z"/>
<rect x="1438.5" y="1210.09" width="512.9" height="1.2" fill="#1a1a1a"/>
<text x="1960.2" y="1209.39" font-size="26" fill="#e3a3cb" textLength="118.8" lengthAdjust="spacingAndGlyphs">V.FB1 Ctrl</text>
<path fill="#f5aad6" d="M1455.19 1236.37L1455.19 1234.79L1463.02 1232.34L1469.13 1233.81L1518.05 1233.81L1524.16 1232.34L1530.28 1233.81L1539.33 1233.32L1543.73 1232.34L1549.84 1233.32L1554.73 1232.34L1562.07 1233.81L1574.3 1233.81L1580.42 1232.34L1586.53 1233.81L1610.99 1233.81L1617.1 1232.34L1621.99 1233.32L1629.33 1232.34L1637.89 1233.81L1737.68 1233.81L1744.28 1232.34L1750.4 1232.34L1757.73 1233.81L1765.07 1232.34L1772.41 1231.86L1780.24 1230.39L1785.86 1232.83L1791.98 1233.32L1796.87 1232.34L1806.65 1231.61L1816.43 1232.34L1826.22 1233.81L1836.49 1232.34L1843.34 1233.81L1851.9 1231.61L1860.46 1232.34L1872.69 1232.34L1880.02 1233.81L1943.61 1233.81L1951.44 1229.9L1951.44 1236.37Z"/>
<rect x="1438.5" y="1235.77" width="512.9" height="1.2" fill="#1a1a1a"/>
<text x="1960.2" y="1235.07" font-size="26" fill="#e3a3cb" textLength="121" lengthAdjust="spacingAndGlyphs">V.FB1 Cov</text>
<path fill="#4cdd64" d="M1450.06 1261.8L1450.06 1260.23L1455.68 1251.18L1458.86 1251.18L1463.02 1257.29L1466.69 1255.33L1474.02 1255.33L1478.92 1259.25L1483.81 1258.51L1487.96 1254.85L1494.08 1259.25L1538.84 1259.25L1542.99 1251.18L1546.17 1251.18L1549.84 1256.07L1553.51 1251.18L1556.69 1251.18L1561.58 1259.25L1631.78 1259.25L1637.16 1254.85L1642.78 1259.25L1702.7 1259.25L1708.33 1254.85L1714.93 1259.25L1784.64 1259.25L1790.75 1254.85L1796.87 1259.25L1800.54 1259.25L1806.16 1254.85L1812.03 1259.25L1840.89 1259.25L1847.01 1254.85L1851.9 1258.51L1857.28 1254.85L1862.9 1259.25L1903.26 1259.25L1908.88 1254.85L1915 1259.25L1928.94 1259.25L1933.83 1254.85L1941.17 1254.85L1947.28 1260.23L1947.28 1261.8Z"/>
<rect x="1438.5" y="1261.2" width="512.9" height="1.2" fill="#1a1a1a"/>
<text x="1960.2" y="1260.5" font-size="26" fill="#5cb45c" textLength="122.8" lengthAdjust="spacingAndGlyphs">V.FB2 Ctrl</text>
<path fill="#4cdd64" d="M1486.25 1287L1486.25 1285.66L1493.1 1280.53L1499.7 1284.68L1503.37 1284.68L1508.26 1280.53L1514.38 1284.68L1620.77 1284.68L1626.89 1280.53L1633 1284.68L1641.56 1284.68L1647.19 1280.53L1653.05 1284.68L1758.96 1284.68L1763.85 1280.53L1771.19 1280.53L1776.08 1284.68L1831.11 1284.68L1836.49 1280.53L1842.6 1284.68L1866.57 1284.68L1871.46 1280.53L1878.8 1280.53L1883.69 1283.71L1888.58 1280.53L1892.25 1282.97L1895.92 1273.19L1899.59 1273.19L1903.99 1282.97L1908.88 1280.53L1913.77 1284.19L1917.93 1280.53L1925.27 1280.53L1931.38 1286.4L1931.38 1287Z"/>
<rect x="1438.5" y="1286.4" width="512.9" height="1.2" fill="#1a1a1a"/>
<text x="1960.2" y="1285.7" font-size="26" fill="#5cb45c" textLength="125" lengthAdjust="spacingAndGlyphs">V.FB2 Cov</text>
<rect x="1438.5" y="827.3" width="512.9" height="459.7" fill="none" stroke="#3a3a3a" stroke-width="1.1"/>
<rect x="1440.6" y="1287" width="1.4" height="7.6" fill="#222"/>
<rect x="1543.38" y="1287" width="1.4" height="7.6" fill="#222"/>
<rect x="1646.16" y="1287" width="1.4" height="7.6" fill="#222"/>
<rect x="1748.94" y="1287" width="1.4" height="7.6" fill="#222"/>
<rect x="1851.72" y="1287" width="1.4" height="7.6" fill="#222"/>
<text x="1442.4" y="1318.6" font-size="24.5" text-anchor="middle" textLength="124.5" lengthAdjust="spacingAndGlyphs">42,860,000</text>
<text x="1647.9" y="1318.6" font-size="24.5" text-anchor="middle" textLength="124.5" lengthAdjust="spacingAndGlyphs">42,870,000</text>
<text x="1853.4" y="1318.6" font-size="24.5" text-anchor="middle" textLength="124.5" lengthAdjust="spacingAndGlyphs">42,880,000</text>
<text x="1411.8" y="1057" font-size="27" text-anchor="middle" textLength="121" lengthAdjust="spacingAndGlyphs" transform="rotate(-90 1411.8 1057)">Coverage</text>
<rect x="1437.5" y="1327.9" width="513.9" height="64.9" fill="none" stroke="#222" stroke-width="1.1"/>
<rect x="1549.3" y="1346.7" width="9.9" height="27.3" fill="#d52027"/>
<rect x="1567.4" y="1346.7" width="8.7" height="27.3" fill="#d52027"/>
<rect x="1624.1" y="1346.7" width="15.5" height="27.3" fill="#d52027"/>
<rect x="1726.2" y="1346.7" width="6.1" height="27.3" fill="#d52027"/>
<rect x="1748.8" y="1346.7" width="16.4" height="27.3" fill="#d52027"/>
<rect x="1823" y="1346.7" width="4" height="27.3" fill="#d52027"/>
<rect x="1840.2" y="1346.7" width="13.4" height="27.3" fill="#d52027"/>
<rect x="1875.2" y="1346.7" width="14.1" height="27.3" fill="#d52027"/>
<rect x="1911.4" y="1346.7" width="5.6" height="27.3" fill="#d52027"/>
<text x="1961.9" y="1370" font-size="26" textLength="70.5" lengthAdjust="spacingAndGlyphs">Peaks</text>
<rect x="1437.5" y="1402.6" width="513.9" height="130" fill="none" stroke="#111" stroke-width="1.1"/>
<path fill="none" stroke="#c6d6ea" stroke-width="4.7" d="M1584.8 1408A123.35 118.2 0 0 0 1831.5 1408"/>
<path fill="none" stroke="#8bb9f2" stroke-width="4.7" d="M1626.1 1408A102.7 98.7 0 0 0 1831.5 1408"/>
<path fill="none" stroke="#7a22b4" stroke-width="4.7" d="M1749.2 1408A41.15 39.3 0 0 0 1831.5 1408"/>
<path fill="none" stroke="#4f78e6" stroke-width="4.7" d="M1831.5 1408A20.55 20 0 0 0 1872.6 1408"/>
<text x="1961.9" y="1478.1" font-size="26" textLength="203.7" lengthAdjust="spacingAndGlyphs">Peak2GeneLinks</text>
<rect x="1437.5" y="1542.7" width="513.9" height="128.9" fill="none" stroke="#222" stroke-width="1.1"/>
<rect x="1574.4" y="1597.1" width="274.2" height="18.8" fill="#1e86ee"/>
<rect x="1574.4" y="1587" width="39" height="38.8" fill="#1e86ee"/>
<rect x="1621.4" y="1587" width="39" height="38.8" fill="#1e86ee"/>
<rect x="1683" y="1587" width="6.2" height="38.8" fill="#1e86ee"/>
<rect x="1809.6" y="1587" width="10.6" height="38.8" fill="#1e86ee"/>
<rect x="1842" y="1587" width="6.6" height="38.8" fill="#1e86ee"/>
<rect x="1588.5" y="1587" width="0.7" height="38.8" fill="#7fb8f5"/>
<rect x="1731.2" y="1587" width="0.9" height="38.8" fill="#1e86ee"/>
<rect x="1785.6" y="1587" width="1.2" height="38.8" fill="#1e86ee"/>
<text x="1863.2" y="1612" font-size="26" fill="#1e86ee" textLength="63" lengthAdjust="spacingAndGlyphs" font-style="italic">PSG1</text>
<text x="1961.9" y="1612" font-size="26" textLength="78.7" lengthAdjust="spacingAndGlyphs">Genes</text>
<text x="1285.3" y="1410.9" font-size="27" textLength="142.5" lengthAdjust="spacingAndGlyphs">Correlation</text>
<rect x="1344.7" y="1421" width="29.4" height="116.8" fill="url(#corr)"/>
<rect x="1364" y="1434.95" width="10.1" height="1.1" fill="#ffffff" opacity="0.75"/>
<text x="1387.3" y="1443.1" font-size="24.5" textLength="33.6" lengthAdjust="spacingAndGlyphs">0.9</text>
<rect x="1364" y="1462.45" width="10.1" height="1.1" fill="#ffffff" opacity="0.75"/>
<text x="1387.3" y="1470.6" font-size="24.5" textLength="33.6" lengthAdjust="spacingAndGlyphs">0.8</text>
<rect x="1364" y="1489.95" width="10.1" height="1.1" fill="#ffffff" opacity="0.75"/>
<text x="1387.3" y="1498.1" font-size="24.5" textLength="33.6" lengthAdjust="spacingAndGlyphs">0.7</text>
<rect x="1364" y="1517.65" width="10.1" height="1.1" fill="#ffffff" opacity="0.75"/>
<text x="1387.3" y="1525.8" font-size="24.5" textLength="33.6" lengthAdjust="spacingAndGlyphs">0.6</text>
<rect x="1738.2" y="826" width="30.4" height="845.3" fill="none" stroke="#ff0000" stroke-width="2.4"/>
</g>
<text x="0" y="33.6" font-size="37.6" textLength="21.2" lengthAdjust="spacingAndGlyphs" font-weight="bold" stroke="#000" stroke-width="0.9">a</text>
<text x="-0.3" y="797.4" font-size="38" textLength="25.2" lengthAdjust="spacingAndGlyphs" font-weight="bold" stroke="#000" stroke-width="0.9">b</text>
<text x="1285.5" y="797" font-size="37.6" textLength="22" lengthAdjust="spacingAndGlyphs" font-weight="bold" stroke="#000" stroke-width="0.9">c</text>
</svg></body></html>
